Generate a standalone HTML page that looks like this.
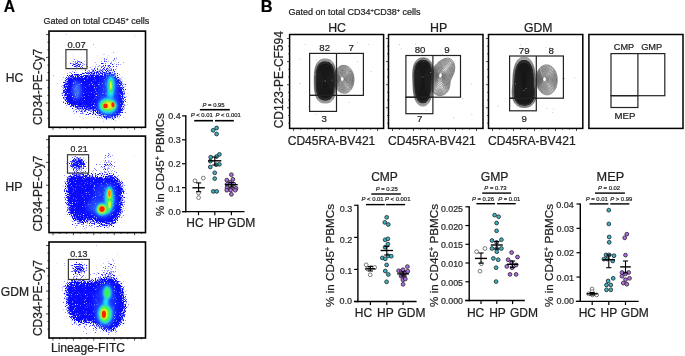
<!DOCTYPE html>
<html><head><meta charset="utf-8"><style>
html,body{margin:0;padding:0;background:#fff;overflow:hidden;}
svg{display:block;font-family:"Liberation Sans", sans-serif;will-change:transform;}
text{stroke:#222;stroke-width:0.22px;paint-order:stroke;}
</style></head><body>
<svg width="685" height="356" viewBox="0 0 685 356">
<defs><filter id="spk" filterUnits="userSpaceOnUse" x="0" y="0" width="685" height="356" color-interpolation-filters="sRGB"><feTurbulence type="fractalNoise" baseFrequency="0.9" numOctaves="1" seed="7" result="n"/><feColorMatrix in="n" type="matrix" values="0 0 0 0 0 0 0 0 0 0 0 0 0 0 0 1 0 0 0 0" result="nA"/><feComposite in="SourceAlpha" in2="nA" operator="arithmetic" k2="3.3" k3="-6" k4="1.45" result="m"/><feFlood flood-color="#0a0aff"/><feComposite in2="m" operator="in"/></filter><filter id="b0.6" x="-50%" y="-50%" width="200%" height="200%"><feGaussianBlur stdDeviation="0.6"/></filter><filter id="b0.7" x="-50%" y="-50%" width="200%" height="200%"><feGaussianBlur stdDeviation="0.7"/></filter><filter id="b0.8" x="-50%" y="-50%" width="200%" height="200%"><feGaussianBlur stdDeviation="0.8"/></filter><filter id="b0.9" x="-50%" y="-50%" width="200%" height="200%"><feGaussianBlur stdDeviation="0.9"/></filter><filter id="b1.0" x="-50%" y="-50%" width="200%" height="200%"><feGaussianBlur stdDeviation="1.0"/></filter><filter id="b1.5" x="-50%" y="-50%" width="200%" height="200%"><feGaussianBlur stdDeviation="1.5"/></filter><filter id="b2.0" x="-50%" y="-50%" width="200%" height="200%"><feGaussianBlur stdDeviation="2.0"/></filter><filter id="b2.2" x="-50%" y="-50%" width="200%" height="200%"><feGaussianBlur stdDeviation="2.2"/></filter><filter id="b2.5" x="-50%" y="-50%" width="200%" height="200%"><feGaussianBlur stdDeviation="2.5"/></filter><filter id="b2.6" x="-50%" y="-50%" width="200%" height="200%"><feGaussianBlur stdDeviation="2.6"/></filter><filter id="b2.8" x="-50%" y="-50%" width="200%" height="200%"><feGaussianBlur stdDeviation="2.8"/></filter><filter id="b3" x="-50%" y="-50%" width="200%" height="200%"><feGaussianBlur stdDeviation="3"/></filter><filter id="b3.0" x="-50%" y="-50%" width="200%" height="200%"><feGaussianBlur stdDeviation="3.0"/></filter><filter id="b3.2" x="-50%" y="-50%" width="200%" height="200%"><feGaussianBlur stdDeviation="3.2"/></filter><filter id="b5" x="-50%" y="-50%" width="200%" height="200%"><feGaussianBlur stdDeviation="5"/></filter></defs>
<rect width="685" height="356" fill="#fff"/>
<text x="3.71" y="11.90" font-size="15.67" fill="#000" font-weight="bold">A</text><text x="43.45" y="23.90" font-size="9.00" fill="#1e1e1e">Gated on total CD45<tspan font-size="5.6" dy="-3.2">+</tspan><tspan dy="3.2"> cells</tspan></text><clipPath id="cA0"><rect x="49" y="31.1" width="96.5" height="96.19999999999999"/></clipPath><g clip-path="url(#cA0)"><g filter="url(#spk)"><ellipse cx="110" cy="62" rx="11" ry="9" fill="#000" fill-opacity="0.4" filter="url(#b3)"/><ellipse cx="98" cy="70" rx="16" ry="4.5" fill="#000" fill-opacity="0.45" filter="url(#b2.5)"/><ellipse cx="77" cy="64" rx="8.5" ry="5.5" fill="#000" fill-opacity="0.5" filter="url(#b2.5)"/><ellipse cx="77.5" cy="64.5" rx="4" ry="2.6" fill="#000" fill-opacity="0.4" filter="url(#b1.5)"/><ellipse cx="93" cy="114" rx="22" ry="6" fill="#000" fill-opacity="0.3" filter="url(#b3)"/><path d="M63.20 90.00C63.20 86.33 64.23 82.27 65.00 80.00C65.77 77.73 66.42 77.30 67.80 76.40C69.18 75.50 70.87 74.75 73.30 74.60C75.73 74.45 79.67 75.65 82.40 75.50C85.13 75.35 87.57 74.15 89.70 73.70C91.83 73.25 93.37 72.80 95.20 72.80C97.03 72.80 98.88 73.47 100.70 73.70C102.52 73.93 104.58 74.38 106.10 74.20C107.62 74.02 108.27 72.53 109.80 72.60C111.33 72.67 113.63 73.65 115.30 74.60C116.97 75.55 118.43 76.17 119.80 78.30C121.17 80.43 122.73 84.37 123.50 87.40C124.27 90.43 124.40 93.15 124.40 96.50C124.40 99.85 124.10 104.45 123.50 107.50C122.90 110.55 122.48 112.98 120.80 114.80C119.12 116.62 115.85 117.95 113.40 118.40C110.95 118.85 108.53 118.40 106.10 117.50C103.67 116.60 101.23 114.37 98.80 113.00C96.37 111.63 93.93 109.77 91.50 109.30C89.07 108.83 86.63 110.35 84.20 110.20C81.77 110.05 79.33 109.15 76.90 108.40C74.47 107.65 71.58 106.77 69.60 105.70C67.62 104.63 66.07 104.62 65.00 102.00C63.93 99.38 63.20 93.67 63.20 90.00Z" fill="#000" fill-opacity="0.45" filter="url(#b5)"/><path d="M64.40 90.07C64.39 86.54 65.37 82.62 66.12 80.44C66.86 78.26 67.49 77.84 68.84 76.99C70.20 76.14 71.86 75.44 74.24 75.34C76.62 75.25 80.50 76.53 83.14 76.45C85.77 76.36 88.04 75.26 90.05 74.85C92.06 74.44 93.49 74.00 95.20 74.00C96.92 74.00 98.64 74.65 100.36 74.85C102.07 75.05 104.02 75.44 105.47 75.22C106.93 75.01 107.59 73.53 109.08 73.56C110.57 73.59 112.78 74.50 114.39 75.39C116.00 76.27 117.43 76.85 118.75 78.88C120.07 80.92 121.57 84.69 122.32 87.59C123.06 90.50 123.19 93.09 123.21 96.32C123.24 99.54 123.00 103.97 122.45 106.92C121.90 109.87 121.53 112.25 119.91 114.00C118.28 115.75 115.10 117.01 112.72 117.41C110.34 117.81 107.98 117.33 105.63 116.40C103.28 115.46 100.91 113.19 98.60 111.82C96.29 110.44 94.05 108.57 91.75 108.13C89.46 107.69 87.15 109.26 84.82 109.17C82.50 109.09 80.15 108.27 77.79 107.60C75.43 106.93 72.60 106.13 70.66 105.13C68.72 104.14 67.18 104.13 66.14 101.62C65.10 99.11 64.40 93.60 64.40 90.07Z" fill="#000" fill-opacity="1.0" filter="url(#b3.2)"/><path d="M66.19 90.18C66.18 86.86 67.09 83.15 67.79 81.10C68.49 79.05 69.10 78.65 70.41 77.88C71.72 77.11 73.35 76.46 75.65 76.46C77.96 76.46 81.76 77.85 84.25 77.86C86.73 77.88 88.75 76.91 90.57 76.57C92.40 76.23 93.66 75.80 95.21 75.80C96.75 75.80 98.29 76.41 99.84 76.57C101.40 76.73 103.18 77.02 104.54 76.76C105.90 76.50 106.58 75.03 108.00 75.00C109.41 74.97 111.50 75.77 113.03 76.56C114.56 77.36 115.93 77.87 117.18 79.76C118.43 81.64 119.83 85.17 120.54 87.88C121.25 90.59 121.38 93.01 121.44 96.04C121.49 99.07 121.35 103.26 120.87 106.05C120.39 108.85 120.09 111.16 118.56 112.80C117.04 114.45 113.97 115.60 111.70 115.93C109.43 116.25 107.16 115.72 104.93 114.74C102.69 113.76 100.43 111.44 98.30 110.04C96.17 108.65 94.23 106.77 92.13 106.37C90.04 105.97 87.92 107.63 85.75 107.63C83.59 107.64 81.39 106.96 79.13 106.40C76.88 105.84 74.13 105.17 72.24 104.28C70.36 103.39 68.86 103.41 67.85 101.06C66.84 98.71 66.20 93.51 66.19 90.18Z" fill="#000" fill-opacity="0.7" filter="url(#b3.0)"/></g><ellipse cx="76.9" cy="90.5" rx="4" ry="9" fill="#4a8cff" opacity="0.85" filter="url(#b2.0)"/><ellipse cx="108.5" cy="96" rx="10.5" ry="21" fill="#2a5cff" opacity="0.5" filter="url(#b3)"/><ellipse cx="110.8" cy="85.5" rx="5.6" ry="11.5" fill="#2a62ff" opacity="0.85" filter="url(#b2.2)"/><ellipse cx="110.3" cy="95" rx="3.2" ry="4.5" fill="#1ee4ff" opacity="1" filter="url(#b1.0)"/><ellipse cx="108" cy="106" rx="10.5" ry="9.5" fill="#2a62ff" opacity="0.85" filter="url(#b2.2)"/><ellipse cx="110.8" cy="85.5" rx="3.6" ry="9.4" fill="#1ee4ff" opacity="1" filter="url(#b1.0)"/><ellipse cx="107.8" cy="105.8" rx="9.0" ry="7.8" fill="#1ee4ff" opacity="1" filter="url(#b1.0)"/><ellipse cx="110.8" cy="86.3" rx="2.0" ry="7.2" fill="#44f040" opacity="1" filter="url(#b0.8)"/><ellipse cx="110.8" cy="85.5" rx="0.9" ry="4.0" fill="#e8ff30" opacity="1" filter="url(#b0.7)"/><ellipse cx="108.2" cy="105.6" rx="7.6" ry="5.5" fill="#44f040" opacity="1" filter="url(#b0.9)"/><ellipse cx="108.6" cy="105.4" rx="6.0" ry="3.9" fill="#f8e820" opacity="1" filter="url(#b0.8)"/><ellipse cx="105.5" cy="105.9" rx="2.3" ry="2.4" fill="#ff2000" opacity="1" filter="url(#b0.6)"/><ellipse cx="112.9" cy="104.8" rx="1.6" ry="2.5" fill="#ff2000" opacity="1" filter="url(#b0.6)"/></g><rect x="49" y="31.1" width="96.5" height="96.19999999999999" fill="none" stroke="#000" stroke-width="1.6"/><line x1="46" y1="34.6" x2="49" y2="34.6" stroke="#000" stroke-width="0.7"/><line x1="47.4" y1="42.2" x2="49" y2="42.2" stroke="#000" stroke-width="0.7"/><line x1="47.4" y1="49.8" x2="49" y2="49.8" stroke="#000" stroke-width="0.7"/><line x1="46" y1="57.4" x2="49" y2="57.4" stroke="#000" stroke-width="0.7"/><line x1="47.4" y1="65.0" x2="49" y2="65.0" stroke="#000" stroke-width="0.7"/><line x1="47.4" y1="72.6" x2="49" y2="72.6" stroke="#000" stroke-width="0.7"/><line x1="46" y1="80.19999999999999" x2="49" y2="80.19999999999999" stroke="#000" stroke-width="0.7"/><line x1="47.4" y1="87.8" x2="49" y2="87.8" stroke="#000" stroke-width="0.7"/><line x1="47.4" y1="95.4" x2="49" y2="95.4" stroke="#000" stroke-width="0.7"/><line x1="46" y1="103.0" x2="49" y2="103.0" stroke="#000" stroke-width="0.7"/><line x1="47.4" y1="110.6" x2="49" y2="110.6" stroke="#000" stroke-width="0.7"/><line x1="47.4" y1="118.19999999999999" x2="49" y2="118.19999999999999" stroke="#000" stroke-width="0.7"/><line x1="53.0" y1="127.3" x2="53.0" y2="129.9" stroke="#000" stroke-width="0.7"/><line x1="59.8" y1="127.3" x2="59.8" y2="128.7" stroke="#000" stroke-width="0.7"/><line x1="66.6" y1="127.3" x2="66.6" y2="128.7" stroke="#000" stroke-width="0.7"/><line x1="73.4" y1="127.3" x2="73.4" y2="129.9" stroke="#000" stroke-width="0.7"/><line x1="80.2" y1="127.3" x2="80.2" y2="128.7" stroke="#000" stroke-width="0.7"/><line x1="87.0" y1="127.3" x2="87.0" y2="128.7" stroke="#000" stroke-width="0.7"/><line x1="93.8" y1="127.3" x2="93.8" y2="129.9" stroke="#000" stroke-width="0.7"/><line x1="100.6" y1="127.3" x2="100.6" y2="128.7" stroke="#000" stroke-width="0.7"/><line x1="107.4" y1="127.3" x2="107.4" y2="128.7" stroke="#000" stroke-width="0.7"/><line x1="114.19999999999999" y1="127.3" x2="114.19999999999999" y2="129.9" stroke="#000" stroke-width="0.7"/><line x1="121.0" y1="127.3" x2="121.0" y2="128.7" stroke="#000" stroke-width="0.7"/><line x1="127.8" y1="127.3" x2="127.8" y2="128.7" stroke="#000" stroke-width="0.7"/><line x1="134.6" y1="127.3" x2="134.6" y2="129.9" stroke="#000" stroke-width="0.7"/><line x1="141.39999999999998" y1="127.3" x2="141.39999999999998" y2="128.7" stroke="#000" stroke-width="0.7"/><clipPath id="cA1"><rect x="49" y="136.1" width="96.5" height="96.5"/></clipPath><g clip-path="url(#cA1)"><g filter="url(#spk)"><ellipse cx="109" cy="160" rx="4" ry="11" fill="#000" fill-opacity="0.42" filter="url(#b2.5)"/><ellipse cx="104" cy="168" rx="13" ry="6" fill="#000" fill-opacity="0.35" filter="url(#b3)"/><ellipse cx="77.7" cy="164" rx="9.5" ry="7.2" fill="#000" fill-opacity="0.7" filter="url(#b2.8)"/><ellipse cx="77.7" cy="163.8" rx="6" ry="4.2" fill="#000" fill-opacity="0.7" filter="url(#b2.0)"/><ellipse cx="90" cy="224" rx="22" ry="5" fill="#000" fill-opacity="0.3" filter="url(#b3)"/><path d="M66.70 183.80C67.02 180.83 66.38 176.97 68.20 175.40C70.02 173.83 74.15 174.57 77.60 174.40C81.05 174.23 85.77 174.08 88.90 174.40C92.03 174.72 94.20 175.98 96.40 176.30C98.60 176.62 100.22 176.45 102.10 176.30C103.98 176.15 105.82 175.55 107.70 175.40C109.58 175.25 111.52 174.93 113.40 175.40C115.28 175.87 117.43 176.17 119.00 178.20C120.57 180.23 122.17 183.53 122.80 187.60C123.43 191.67 123.12 198.20 122.80 202.60C122.48 207.00 121.85 210.85 120.90 214.00C119.95 217.15 118.67 219.63 117.10 221.50C115.53 223.37 114.00 224.73 111.50 225.20C109.00 225.67 105.25 225.23 102.10 224.30C98.95 223.37 95.43 220.07 92.60 219.60C89.77 219.13 87.60 221.18 85.10 221.50C82.60 221.82 79.95 222.13 77.60 221.50C75.25 220.87 72.73 220.22 71.00 217.70C69.27 215.18 67.98 210.48 67.20 206.40C66.42 202.32 66.38 196.97 66.30 193.20C66.22 189.43 66.38 186.77 66.70 183.80Z" fill="#000" fill-opacity="0.45" filter="url(#b5)"/><path d="M67.78 184.32C68.06 181.45 67.37 177.65 69.13 176.16C70.89 174.67 74.98 175.45 78.33 175.35C81.67 175.25 86.21 175.20 89.21 175.56C92.21 175.92 94.24 177.18 96.33 177.50C98.41 177.81 99.93 177.61 101.72 177.44C103.52 177.26 105.28 176.63 107.10 176.44C108.92 176.25 110.80 175.90 112.63 176.32C114.46 176.74 116.56 177.00 118.06 178.95C119.57 180.90 121.08 184.09 121.67 188.00C122.26 191.90 121.92 198.15 121.62 202.38C121.32 206.60 120.78 210.31 119.89 213.35C119.00 216.39 117.79 218.81 116.29 220.61C114.79 222.42 113.31 223.75 110.89 224.17C108.48 224.59 104.82 224.10 101.80 223.14C98.77 222.18 95.44 218.87 92.73 218.41C90.03 217.95 87.96 220.04 85.56 220.39C83.15 220.74 80.58 221.11 78.30 220.53C76.03 219.95 73.58 219.34 71.92 216.93C70.26 214.51 69.08 209.96 68.34 206.03C67.60 202.10 67.58 196.99 67.49 193.37C67.39 189.75 67.51 187.19 67.78 184.32Z" fill="#000" fill-opacity="1.0" filter="url(#b3.2)"/><path d="M69.41 185.09C69.62 182.37 68.86 178.68 70.52 177.30C72.19 175.91 76.22 176.79 79.42 176.79C82.61 176.79 86.88 176.88 89.68 177.30C92.48 177.71 94.30 178.99 96.21 179.29C98.13 179.60 99.49 179.36 101.15 179.15C102.82 178.93 104.49 178.24 106.21 178.00C107.93 177.76 109.74 177.36 111.48 177.70C113.22 178.05 115.24 178.26 116.66 180.08C118.07 181.89 119.44 184.94 119.97 188.60C120.50 192.26 120.12 198.08 119.85 202.04C119.59 206.01 119.17 209.50 118.38 212.37C117.58 215.25 116.48 217.58 115.08 219.28C113.68 220.99 112.27 222.26 109.98 222.62C107.69 222.97 104.19 222.40 101.34 221.40C98.50 220.40 95.45 217.06 92.93 216.62C90.42 216.17 88.51 218.32 86.25 218.73C83.99 219.14 81.52 219.56 79.36 219.07C77.20 218.58 74.84 218.03 73.29 215.77C71.74 213.50 70.72 209.17 70.05 205.48C69.38 201.79 69.38 197.03 69.27 193.63C69.16 190.23 69.20 187.82 69.41 185.09Z" fill="#000" fill-opacity="0.7" filter="url(#b3.0)"/></g><ellipse cx="94" cy="207" rx="8" ry="6" fill="#3a70ff" opacity="0.55" filter="url(#b2.6)"/><ellipse cx="104" cy="200" rx="12" ry="17" fill="#2a5cff" opacity="0.5" filter="url(#b3)"/><ellipse cx="109.4" cy="198.8" rx="5.6" ry="14" fill="#2a62ff" opacity="0.85" filter="url(#b2.2)"/><ellipse cx="102.4" cy="209.5" rx="8.2" ry="7.8" fill="#2a62ff" opacity="0.85" filter="url(#b2.2)"/><ellipse cx="109.2" cy="198.8" rx="4.5" ry="12.6" fill="#1ee4ff" opacity="1" filter="url(#b1.0)"/><ellipse cx="102.2" cy="209.3" rx="6.0" ry="6.2" fill="#1ee4ff" opacity="1" filter="url(#b1.0)"/><ellipse cx="106.2" cy="210" rx="4.2" ry="3.8" fill="#1ee4ff" opacity="1" filter="url(#b1.0)"/><ellipse cx="109.4" cy="198.6" rx="2.8" ry="10.6" fill="#44f040" opacity="1" filter="url(#b0.8)"/><ellipse cx="102.1" cy="209.2" rx="4.8" ry="4.8" fill="#44f040" opacity="1" filter="url(#b0.8)"/><ellipse cx="106.2" cy="209.6" rx="3.2" ry="2.6" fill="#44f040" opacity="1" filter="url(#b0.8)"/><ellipse cx="109.6" cy="204.5" rx="1.3" ry="4.0" fill="#d8ff30" opacity="1" filter="url(#b0.7)"/><ellipse cx="109.4" cy="194.0" rx="1.9" ry="4.6" fill="#f8e820" opacity="1" filter="url(#b0.7)"/><ellipse cx="109.4" cy="193.6" rx="1.2" ry="3.3" fill="#ff7010" opacity="1" filter="url(#b0.6)"/><ellipse cx="102.1" cy="209.2" rx="3.9" ry="3.9" fill="#f8e820" opacity="1" filter="url(#b0.8)"/><ellipse cx="102.0" cy="209.1" rx="2.7" ry="2.8" fill="#ff2000" opacity="1" filter="url(#b0.6)"/></g><rect x="49" y="136.1" width="96.5" height="96.5" fill="none" stroke="#000" stroke-width="1.6"/><line x1="46" y1="139.6" x2="49" y2="139.6" stroke="#000" stroke-width="0.7"/><line x1="47.4" y1="147.2" x2="49" y2="147.2" stroke="#000" stroke-width="0.7"/><line x1="47.4" y1="154.79999999999998" x2="49" y2="154.79999999999998" stroke="#000" stroke-width="0.7"/><line x1="46" y1="162.39999999999998" x2="49" y2="162.39999999999998" stroke="#000" stroke-width="0.7"/><line x1="47.4" y1="170.0" x2="49" y2="170.0" stroke="#000" stroke-width="0.7"/><line x1="47.4" y1="177.6" x2="49" y2="177.6" stroke="#000" stroke-width="0.7"/><line x1="46" y1="185.2" x2="49" y2="185.2" stroke="#000" stroke-width="0.7"/><line x1="47.4" y1="192.79999999999998" x2="49" y2="192.79999999999998" stroke="#000" stroke-width="0.7"/><line x1="47.4" y1="200.39999999999998" x2="49" y2="200.39999999999998" stroke="#000" stroke-width="0.7"/><line x1="46" y1="208.0" x2="49" y2="208.0" stroke="#000" stroke-width="0.7"/><line x1="47.4" y1="215.6" x2="49" y2="215.6" stroke="#000" stroke-width="0.7"/><line x1="47.4" y1="223.2" x2="49" y2="223.2" stroke="#000" stroke-width="0.7"/><line x1="53.0" y1="232.6" x2="53.0" y2="235.2" stroke="#000" stroke-width="0.7"/><line x1="59.8" y1="232.6" x2="59.8" y2="234.0" stroke="#000" stroke-width="0.7"/><line x1="66.6" y1="232.6" x2="66.6" y2="234.0" stroke="#000" stroke-width="0.7"/><line x1="73.4" y1="232.6" x2="73.4" y2="235.2" stroke="#000" stroke-width="0.7"/><line x1="80.2" y1="232.6" x2="80.2" y2="234.0" stroke="#000" stroke-width="0.7"/><line x1="87.0" y1="232.6" x2="87.0" y2="234.0" stroke="#000" stroke-width="0.7"/><line x1="93.8" y1="232.6" x2="93.8" y2="235.2" stroke="#000" stroke-width="0.7"/><line x1="100.6" y1="232.6" x2="100.6" y2="234.0" stroke="#000" stroke-width="0.7"/><line x1="107.4" y1="232.6" x2="107.4" y2="234.0" stroke="#000" stroke-width="0.7"/><line x1="114.19999999999999" y1="232.6" x2="114.19999999999999" y2="235.2" stroke="#000" stroke-width="0.7"/><line x1="121.0" y1="232.6" x2="121.0" y2="234.0" stroke="#000" stroke-width="0.7"/><line x1="127.8" y1="232.6" x2="127.8" y2="234.0" stroke="#000" stroke-width="0.7"/><line x1="134.6" y1="232.6" x2="134.6" y2="235.2" stroke="#000" stroke-width="0.7"/><line x1="141.39999999999998" y1="232.6" x2="141.39999999999998" y2="234.0" stroke="#000" stroke-width="0.7"/><clipPath id="cA2"><rect x="49" y="242" width="96.5" height="96"/></clipPath><g clip-path="url(#cA2)"><g filter="url(#spk)"><ellipse cx="110" cy="266" rx="5" ry="10" fill="#000" fill-opacity="0.38" filter="url(#b2.5)"/><ellipse cx="104" cy="274" rx="13" ry="6" fill="#000" fill-opacity="0.32" filter="url(#b3)"/><ellipse cx="78.8" cy="269" rx="9.5" ry="7" fill="#000" fill-opacity="0.55" filter="url(#b2.8)"/><ellipse cx="78.8" cy="268" rx="5.5" ry="3.6" fill="#000" fill-opacity="0.6" filter="url(#b2.0)"/><ellipse cx="92" cy="328" rx="22" ry="5" fill="#000" fill-opacity="0.3" filter="url(#b3)"/><path d="M65.50 289.10C65.65 285.93 65.33 282.93 67.40 281.50C69.47 280.07 73.92 280.67 77.90 280.50C81.88 280.33 87.80 280.67 91.30 280.50C94.80 280.33 96.68 279.98 98.90 279.50C101.12 279.02 102.37 277.92 104.60 277.60C106.83 277.28 109.75 276.95 112.30 277.60C114.85 278.25 118.00 279.27 119.90 281.50C121.80 283.73 122.75 287.18 123.70 291.00C124.65 294.82 125.43 300.27 125.60 304.40C125.77 308.53 125.65 312.30 124.70 315.80C123.75 319.30 121.65 322.85 119.90 325.40C118.15 327.95 116.42 330.47 114.20 331.10C111.98 331.73 109.15 330.00 106.60 329.20C104.05 328.40 101.77 327.57 98.90 326.30C96.03 325.03 92.27 322.23 89.40 321.60C86.53 320.97 84.25 322.50 81.70 322.50C79.15 322.50 76.32 323.03 74.10 321.60C71.88 320.17 69.67 317.42 68.40 313.90C67.13 310.38 66.98 304.63 66.50 300.50C66.02 296.37 65.35 292.27 65.50 289.10Z" fill="#000" fill-opacity="0.45" filter="url(#b5)"/><path d="M66.60 289.58C66.71 286.51 66.36 283.56 68.37 282.20C70.39 280.84 74.81 281.50 78.68 281.42C82.54 281.33 88.23 281.79 91.58 281.67C94.93 281.55 96.67 281.18 98.78 280.69C100.89 280.21 102.09 279.09 104.23 278.74C106.38 278.40 109.20 278.02 111.66 278.62C114.12 279.21 117.19 280.16 119.01 282.30C120.83 284.45 121.70 287.80 122.60 291.47C123.49 295.14 124.23 300.35 124.40 304.32C124.57 308.29 124.51 311.92 123.61 315.29C122.72 318.66 120.72 322.10 119.04 324.56C117.37 327.03 115.71 329.49 113.57 330.08C111.43 330.67 108.64 328.91 106.18 328.08C103.71 327.25 101.51 326.37 98.78 325.11C96.06 323.84 92.55 321.07 89.82 320.48C87.10 319.88 84.89 321.48 82.42 321.54C79.95 321.60 77.17 322.17 75.02 320.82C72.86 319.48 70.73 316.83 69.51 313.45C68.29 310.08 68.18 304.56 67.70 300.58C67.21 296.60 66.49 292.64 66.60 289.58Z" fill="#000" fill-opacity="1.0" filter="url(#b3.2)"/><path d="M68.25 290.29C68.31 287.38 67.90 284.51 69.83 283.26C71.76 282.01 76.14 282.76 79.84 282.79C83.53 282.82 88.87 283.47 92.00 283.42C95.12 283.37 96.65 282.98 98.60 282.48C100.55 281.99 101.66 280.85 103.68 280.46C105.70 280.06 108.37 279.63 110.70 280.14C113.03 280.65 115.97 281.50 117.67 283.51C119.38 285.52 120.12 288.73 120.94 292.18C121.76 295.63 122.43 300.49 122.61 304.21C122.78 307.93 122.79 311.34 121.99 314.52C121.18 317.70 119.32 320.96 117.76 323.30C116.20 325.64 114.66 328.03 112.62 328.55C110.59 329.06 107.88 327.26 105.54 326.39C103.21 325.52 101.12 324.58 98.61 323.31C96.09 322.05 92.98 319.33 90.46 318.79C87.94 318.26 85.84 319.95 83.49 320.10C81.15 320.24 78.44 320.88 76.39 319.66C74.34 318.44 72.33 315.94 71.18 312.78C70.03 309.62 69.98 304.45 69.49 300.70C69.00 296.96 68.20 293.20 68.25 290.29Z" fill="#000" fill-opacity="0.7" filter="url(#b3.0)"/></g><ellipse cx="105" cy="305" rx="11" ry="21" fill="#2a5cff" opacity="0.5" filter="url(#b3)"/><ellipse cx="107.2" cy="293" rx="5.8" ry="8.5" fill="#2a62ff" opacity="0.85" filter="url(#b2.2)"/><ellipse cx="105" cy="314" rx="9" ry="12.5" fill="#2a62ff" opacity="0.85" filter="url(#b2.2)"/><ellipse cx="107.2" cy="292.9" rx="4.0" ry="7.0" fill="#1ee4ff" opacity="1" filter="url(#b1.0)"/><ellipse cx="105.8" cy="302" rx="2.6" ry="4" fill="#1ee4ff" opacity="1" filter="url(#b1.0)"/><ellipse cx="105.1" cy="313.9" rx="7.2" ry="10.0" fill="#1ee4ff" opacity="1" filter="url(#b1.0)"/><ellipse cx="107.2" cy="292.9" rx="2.6" ry="4.7" fill="#44f040" opacity="1" filter="url(#b0.8)"/><ellipse cx="105.0" cy="313.9" rx="5.4" ry="8.2" fill="#44f040" opacity="1" filter="url(#b0.9)"/><ellipse cx="104.2" cy="313.9" rx="3.6" ry="5.6" fill="#f0ff20" opacity="1" filter="url(#b0.8)"/><ellipse cx="103.9" cy="314.2" rx="2.1" ry="3.7" fill="#ff2400" opacity="1" filter="url(#b0.6)"/></g><rect x="49" y="242" width="96.5" height="96" fill="none" stroke="#000" stroke-width="1.6"/><line x1="46" y1="245.5" x2="49" y2="245.5" stroke="#000" stroke-width="0.7"/><line x1="47.4" y1="253.1" x2="49" y2="253.1" stroke="#000" stroke-width="0.7"/><line x1="47.4" y1="260.7" x2="49" y2="260.7" stroke="#000" stroke-width="0.7"/><line x1="46" y1="268.3" x2="49" y2="268.3" stroke="#000" stroke-width="0.7"/><line x1="47.4" y1="275.9" x2="49" y2="275.9" stroke="#000" stroke-width="0.7"/><line x1="47.4" y1="283.5" x2="49" y2="283.5" stroke="#000" stroke-width="0.7"/><line x1="46" y1="291.1" x2="49" y2="291.1" stroke="#000" stroke-width="0.7"/><line x1="47.4" y1="298.7" x2="49" y2="298.7" stroke="#000" stroke-width="0.7"/><line x1="47.4" y1="306.3" x2="49" y2="306.3" stroke="#000" stroke-width="0.7"/><line x1="46" y1="313.9" x2="49" y2="313.9" stroke="#000" stroke-width="0.7"/><line x1="47.4" y1="321.5" x2="49" y2="321.5" stroke="#000" stroke-width="0.7"/><line x1="47.4" y1="329.1" x2="49" y2="329.1" stroke="#000" stroke-width="0.7"/><line x1="53.0" y1="338" x2="53.0" y2="340.6" stroke="#000" stroke-width="0.7"/><line x1="59.8" y1="338" x2="59.8" y2="339.4" stroke="#000" stroke-width="0.7"/><line x1="66.6" y1="338" x2="66.6" y2="339.4" stroke="#000" stroke-width="0.7"/><line x1="73.4" y1="338" x2="73.4" y2="340.6" stroke="#000" stroke-width="0.7"/><line x1="80.2" y1="338" x2="80.2" y2="339.4" stroke="#000" stroke-width="0.7"/><line x1="87.0" y1="338" x2="87.0" y2="339.4" stroke="#000" stroke-width="0.7"/><line x1="93.8" y1="338" x2="93.8" y2="340.6" stroke="#000" stroke-width="0.7"/><line x1="100.6" y1="338" x2="100.6" y2="339.4" stroke="#000" stroke-width="0.7"/><line x1="107.4" y1="338" x2="107.4" y2="339.4" stroke="#000" stroke-width="0.7"/><line x1="114.19999999999999" y1="338" x2="114.19999999999999" y2="340.6" stroke="#000" stroke-width="0.7"/><line x1="121.0" y1="338" x2="121.0" y2="339.4" stroke="#000" stroke-width="0.7"/><line x1="127.8" y1="338" x2="127.8" y2="339.4" stroke="#000" stroke-width="0.7"/><line x1="134.6" y1="338" x2="134.6" y2="340.6" stroke="#000" stroke-width="0.7"/><line x1="141.39999999999998" y1="338" x2="141.39999999999998" y2="339.4" stroke="#000" stroke-width="0.7"/><rect x="65.9" y="49.6" width="21.0" height="19.0" fill="none" stroke="#3a3a3a" stroke-width="1.2"/><text x="67.42" y="47.50" font-size="9.38" fill="#1e1e1e">0.07</text><rect x="67.5" y="154.7" width="21.1" height="18.4" fill="none" stroke="#3a3a3a" stroke-width="1.2"/><text x="70.45" y="152.20" font-size="8.82" fill="#1e1e1e">0.21</text><rect x="68.4" y="259.4" width="20.9" height="20.1" fill="none" stroke="#3a3a3a" stroke-width="1.2"/><text x="70.14" y="257.20" font-size="8.90" fill="#1e1e1e">0.13</text><text x="5.73" y="81.70" font-size="12.15" fill="#1e1e1e">HC</text><text x="5.31" y="190.60" font-size="12.43" fill="#1e1e1e">HP</text><text x="0.80" y="295.60" font-size="12.09" fill="#1e1e1e">GDM</text><text x="41.90" y="124.90" font-size="12.00" fill="#1e1e1e" transform="rotate(-90 41.90 124.90)">CD34-PE-Cy7</text><text x="41.90" y="231.60" font-size="12.00" fill="#1e1e1e" transform="rotate(-90 41.90 231.60)">CD34-PE-Cy7</text><text x="41.90" y="336.10" font-size="12.00" fill="#1e1e1e" transform="rotate(-90 41.90 336.10)">CD34-PE-Cy7</text><text x="50.93" y="352.40" font-size="12.13" fill="#1e1e1e">Lineage-FITC</text><line x1="185.8" y1="115.27999999999999" x2="185.8" y2="212.29999999999998" stroke="#000" stroke-width="1.4"/><line x1="182.5" y1="211.6" x2="244.5" y2="211.6" stroke="#000" stroke-width="1.4"/><line x1="182.0" y1="211.6" x2="185.8" y2="211.6" stroke="#000" stroke-width="1.2"/><line x1="182.0" y1="187.67" x2="185.8" y2="187.67" stroke="#000" stroke-width="1.2"/><line x1="182.0" y1="163.73999999999998" x2="185.8" y2="163.73999999999998" stroke="#000" stroke-width="1.2"/><line x1="182.0" y1="139.81" x2="185.8" y2="139.81" stroke="#000" stroke-width="1.2"/><line x1="182.0" y1="115.87999999999998" x2="185.8" y2="115.87999999999998" stroke="#000" stroke-width="1.2"/><line x1="198.5" y1="211.6" x2="198.5" y2="215.2" stroke="#000" stroke-width="1.2"/><line x1="214.8" y1="211.6" x2="214.8" y2="215.2" stroke="#000" stroke-width="1.2"/><line x1="231.4" y1="211.6" x2="231.4" y2="215.2" stroke="#000" stroke-width="1.2"/><text x="168.20" y="214.65" font-size="9.00" fill="#2a2a2a">0.0</text><text x="168.29" y="191.55" font-size="9.00" fill="#2a2a2a">0.1</text><text x="168.34" y="167.05" font-size="9.00" fill="#2a2a2a">0.2</text><text x="168.25" y="143.35" font-size="9.00" fill="#2a2a2a">0.3</text><text x="168.16" y="119.25" font-size="9.00" fill="#2a2a2a">0.4</text><text x="186.24" y="226.60" font-size="12.00" fill="#1e1e1e">HC</text><text x="208.44" y="226.60" font-size="12.00" fill="#1e1e1e">HP</text><text x="227.30" y="226.60" font-size="12.00" fill="#1e1e1e">GDM</text><circle cx="195" cy="180.8" r="1.9" fill="#ffffff" stroke="#505050" stroke-width="0.75"/><circle cx="203.3" cy="178.1" r="1.9" fill="#ffffff" stroke="#505050" stroke-width="0.75"/><circle cx="198.6" cy="192.8" r="1.9" fill="#ffffff" stroke="#505050" stroke-width="0.75"/><circle cx="198.6" cy="197.6" r="1.9" fill="#ffffff" stroke="#505050" stroke-width="0.75"/><circle cx="216.6" cy="128" r="1.9" fill="#3cb2c4" stroke="#1a1a1a" stroke-width="0.75"/><circle cx="213.1" cy="130.3" r="1.9" fill="#3cb2c4" stroke="#1a1a1a" stroke-width="0.75"/><circle cx="216.6" cy="134" r="1.9" fill="#3cb2c4" stroke="#1a1a1a" stroke-width="0.75"/><circle cx="219.4" cy="154.4" r="1.9" fill="#3cb2c4" stroke="#1a1a1a" stroke-width="0.75"/><circle cx="216.6" cy="156.5" r="1.9" fill="#3cb2c4" stroke="#1a1a1a" stroke-width="0.75"/><circle cx="210.7" cy="157.2" r="1.9" fill="#3cb2c4" stroke="#1a1a1a" stroke-width="0.75"/><circle cx="210.3" cy="161.2" r="1.9" fill="#3cb2c4" stroke="#1a1a1a" stroke-width="0.75"/><circle cx="219.4" cy="164.3" r="1.9" fill="#3cb2c4" stroke="#1a1a1a" stroke-width="0.75"/><circle cx="216.2" cy="164.7" r="1.9" fill="#3cb2c4" stroke="#1a1a1a" stroke-width="0.75"/><circle cx="210.3" cy="167" r="1.9" fill="#3cb2c4" stroke="#1a1a1a" stroke-width="0.75"/><circle cx="214.7" cy="172.8" r="1.9" fill="#3cb2c4" stroke="#1a1a1a" stroke-width="0.75"/><circle cx="214.7" cy="178.6" r="1.9" fill="#3cb2c4" stroke="#1a1a1a" stroke-width="0.75"/><circle cx="213.3" cy="191.4" r="1.9" fill="#3cb2c4" stroke="#1a1a1a" stroke-width="0.75"/><circle cx="216.7" cy="191.4" r="1.9" fill="#3cb2c4" stroke="#1a1a1a" stroke-width="0.75"/><circle cx="231.4" cy="174.7" r="1.9" fill="#b06ee2" stroke="#1a1a1a" stroke-width="0.75"/><circle cx="226.8" cy="180.1" r="1.9" fill="#b06ee2" stroke="#1a1a1a" stroke-width="0.75"/><circle cx="232.9" cy="179.3" r="1.9" fill="#b06ee2" stroke="#1a1a1a" stroke-width="0.75"/><circle cx="230.2" cy="182.4" r="1.9" fill="#b06ee2" stroke="#1a1a1a" stroke-width="0.75"/><circle cx="233.7" cy="184" r="1.9" fill="#b06ee2" stroke="#1a1a1a" stroke-width="0.75"/><circle cx="227" cy="184.4" r="1.9" fill="#b06ee2" stroke="#1a1a1a" stroke-width="0.75"/><circle cx="227" cy="187.8" r="1.9" fill="#b06ee2" stroke="#1a1a1a" stroke-width="0.75"/><circle cx="236" cy="188.3" r="1.9" fill="#b06ee2" stroke="#1a1a1a" stroke-width="0.75"/><circle cx="231.4" cy="187.8" r="1.9" fill="#b06ee2" stroke="#1a1a1a" stroke-width="0.75"/><circle cx="230.6" cy="190.2" r="1.9" fill="#b06ee2" stroke="#1a1a1a" stroke-width="0.75"/><circle cx="226.8" cy="190.2" r="1.9" fill="#b06ee2" stroke="#1a1a1a" stroke-width="0.75"/><circle cx="235.3" cy="190.2" r="1.9" fill="#b06ee2" stroke="#1a1a1a" stroke-width="0.75"/><circle cx="231.4" cy="194.3" r="1.9" fill="#b06ee2" stroke="#1a1a1a" stroke-width="0.75"/><line x1="192.4" y1="187.8" x2="204.79999999999998" y2="187.8" stroke="#000" stroke-width="1.4"/><line x1="198.6" y1="182.9" x2="198.6" y2="191.7" stroke="#000" stroke-width="1.1"/><line x1="196.0" y1="182.9" x2="201.2" y2="182.9" stroke="#000" stroke-width="1.1"/><line x1="196.0" y1="191.7" x2="201.2" y2="191.7" stroke="#000" stroke-width="1.1"/><line x1="208.3" y1="160.8" x2="221.3" y2="160.8" stroke="#000" stroke-width="1.4"/><line x1="214.8" y1="157" x2="214.8" y2="165" stroke="#000" stroke-width="1.1"/><line x1="212.20000000000002" y1="157" x2="217.4" y2="157" stroke="#000" stroke-width="1.1"/><line x1="212.20000000000002" y1="165" x2="217.4" y2="165" stroke="#000" stroke-width="1.1"/><line x1="225.1" y1="184.7" x2="237.70000000000002" y2="184.7" stroke="#000" stroke-width="1.4"/><line x1="231.4" y1="182.5" x2="231.4" y2="187" stroke="#000" stroke-width="1.1"/><line x1="228.8" y1="182.5" x2="234.0" y2="182.5" stroke="#000" stroke-width="1.1"/><line x1="228.8" y1="187" x2="234.0" y2="187" stroke="#000" stroke-width="1.1"/><line x1="199.9" y1="109.7" x2="229.8" y2="109.7" stroke="#000" stroke-width="1.6"/><line x1="194.2" y1="120.7" x2="213" y2="120.7" stroke="#000" stroke-width="1.6"/><line x1="215" y1="120.7" x2="233.8" y2="120.7" stroke="#000" stroke-width="1.6"/><text x="202.53" y="106.80" font-size="5.9" fill="#2a2a2a"><tspan font-style="italic">P</tspan> = 0.95</text><text x="190.63" y="117.10" font-size="5.9" fill="#2a2a2a"><tspan font-style="italic">P</tspan> &lt; 0.01</text><text x="215.43" y="117.10" font-size="5.9" fill="#2a2a2a"><tspan font-style="italic">P</tspan> &lt; 0.001</text><text x="164.4" y="216.0" font-size="11.7" fill="#1e1e1e" transform="rotate(-90 164.4 216.0)">% in CD45<tspan font-size="7.2" dy="-4.3">+</tspan><tspan dy="4.3"> PBMCs</tspan></text><text x="260.83" y="11.90" font-size="16.39" fill="#000" font-weight="bold">B</text><text x="288.45" y="15.40" font-size="9.00" fill="#1e1e1e">Gated on total CD34<tspan font-size="5.6" dy="-3.2">+</tspan><tspan dy="3.2">CD38</tspan><tspan font-size="5.6" dy="-3.2">+</tspan><tspan dy="3.2"> cells</tspan></text><rect x="289.6" y="34.5" width="94.0" height="93.9" fill="none" stroke="#000" stroke-width="1.5"/><text x="328.22" y="32.00" font-size="12.30" fill="#1e1e1e">HC</text><text x="287.70" y="144.50" font-size="12.04" fill="#1e1e1e">CD45RA-BV421</text><line x1="287.0" y1="38.5" x2="289.6" y2="38.5" stroke="#000" stroke-width="0.7"/><line x1="288.20000000000005" y1="46.2" x2="289.6" y2="46.2" stroke="#000" stroke-width="0.7"/><line x1="288.20000000000005" y1="53.9" x2="289.6" y2="53.9" stroke="#000" stroke-width="0.7"/><line x1="287.0" y1="61.6" x2="289.6" y2="61.6" stroke="#000" stroke-width="0.7"/><line x1="288.20000000000005" y1="69.3" x2="289.6" y2="69.3" stroke="#000" stroke-width="0.7"/><line x1="288.20000000000005" y1="77.0" x2="289.6" y2="77.0" stroke="#000" stroke-width="0.7"/><line x1="287.0" y1="84.7" x2="289.6" y2="84.7" stroke="#000" stroke-width="0.7"/><line x1="288.20000000000005" y1="92.4" x2="289.6" y2="92.4" stroke="#000" stroke-width="0.7"/><line x1="288.20000000000005" y1="100.1" x2="289.6" y2="100.1" stroke="#000" stroke-width="0.7"/><line x1="287.0" y1="107.8" x2="289.6" y2="107.8" stroke="#000" stroke-width="0.7"/><line x1="288.20000000000005" y1="115.5" x2="289.6" y2="115.5" stroke="#000" stroke-width="0.7"/><line x1="288.20000000000005" y1="123.2" x2="289.6" y2="123.2" stroke="#000" stroke-width="0.7"/><line x1="293.6" y1="128.4" x2="293.6" y2="131.0" stroke="#000" stroke-width="0.7"/><line x1="300.6" y1="128.4" x2="300.6" y2="129.8" stroke="#000" stroke-width="0.7"/><line x1="307.6" y1="128.4" x2="307.6" y2="129.8" stroke="#000" stroke-width="0.7"/><line x1="314.6" y1="128.4" x2="314.6" y2="131.0" stroke="#000" stroke-width="0.7"/><line x1="321.6" y1="128.4" x2="321.6" y2="129.8" stroke="#000" stroke-width="0.7"/><line x1="328.6" y1="128.4" x2="328.6" y2="129.8" stroke="#000" stroke-width="0.7"/><line x1="335.6" y1="128.4" x2="335.6" y2="131.0" stroke="#000" stroke-width="0.7"/><line x1="342.6" y1="128.4" x2="342.6" y2="129.8" stroke="#000" stroke-width="0.7"/><line x1="349.6" y1="128.4" x2="349.6" y2="129.8" stroke="#000" stroke-width="0.7"/><line x1="356.6" y1="128.4" x2="356.6" y2="131.0" stroke="#000" stroke-width="0.7"/><line x1="363.6" y1="128.4" x2="363.6" y2="129.8" stroke="#000" stroke-width="0.7"/><line x1="370.6" y1="128.4" x2="370.6" y2="129.8" stroke="#000" stroke-width="0.7"/><line x1="377.6" y1="128.4" x2="377.6" y2="131.0" stroke="#000" stroke-width="0.7"/><rect x="388.5" y="34.5" width="94.5" height="93.9" fill="none" stroke="#000" stroke-width="1.5"/><text x="430.11" y="32.00" font-size="12.43" fill="#1e1e1e">HP</text><text x="388.00" y="144.50" font-size="12.04" fill="#1e1e1e">CD45RA-BV421</text><line x1="385.9" y1="38.5" x2="388.5" y2="38.5" stroke="#000" stroke-width="0.7"/><line x1="387.1" y1="46.2" x2="388.5" y2="46.2" stroke="#000" stroke-width="0.7"/><line x1="387.1" y1="53.9" x2="388.5" y2="53.9" stroke="#000" stroke-width="0.7"/><line x1="385.9" y1="61.6" x2="388.5" y2="61.6" stroke="#000" stroke-width="0.7"/><line x1="387.1" y1="69.3" x2="388.5" y2="69.3" stroke="#000" stroke-width="0.7"/><line x1="387.1" y1="77.0" x2="388.5" y2="77.0" stroke="#000" stroke-width="0.7"/><line x1="385.9" y1="84.7" x2="388.5" y2="84.7" stroke="#000" stroke-width="0.7"/><line x1="387.1" y1="92.4" x2="388.5" y2="92.4" stroke="#000" stroke-width="0.7"/><line x1="387.1" y1="100.1" x2="388.5" y2="100.1" stroke="#000" stroke-width="0.7"/><line x1="385.9" y1="107.8" x2="388.5" y2="107.8" stroke="#000" stroke-width="0.7"/><line x1="387.1" y1="115.5" x2="388.5" y2="115.5" stroke="#000" stroke-width="0.7"/><line x1="387.1" y1="123.2" x2="388.5" y2="123.2" stroke="#000" stroke-width="0.7"/><line x1="392.5" y1="128.4" x2="392.5" y2="131.0" stroke="#000" stroke-width="0.7"/><line x1="399.5" y1="128.4" x2="399.5" y2="129.8" stroke="#000" stroke-width="0.7"/><line x1="406.5" y1="128.4" x2="406.5" y2="129.8" stroke="#000" stroke-width="0.7"/><line x1="413.5" y1="128.4" x2="413.5" y2="131.0" stroke="#000" stroke-width="0.7"/><line x1="420.5" y1="128.4" x2="420.5" y2="129.8" stroke="#000" stroke-width="0.7"/><line x1="427.5" y1="128.4" x2="427.5" y2="129.8" stroke="#000" stroke-width="0.7"/><line x1="434.5" y1="128.4" x2="434.5" y2="131.0" stroke="#000" stroke-width="0.7"/><line x1="441.5" y1="128.4" x2="441.5" y2="129.8" stroke="#000" stroke-width="0.7"/><line x1="448.5" y1="128.4" x2="448.5" y2="129.8" stroke="#000" stroke-width="0.7"/><line x1="455.5" y1="128.4" x2="455.5" y2="131.0" stroke="#000" stroke-width="0.7"/><line x1="462.5" y1="128.4" x2="462.5" y2="129.8" stroke="#000" stroke-width="0.7"/><line x1="469.5" y1="128.4" x2="469.5" y2="129.8" stroke="#000" stroke-width="0.7"/><line x1="476.5" y1="128.4" x2="476.5" y2="131.0" stroke="#000" stroke-width="0.7"/><rect x="488.5" y="34.5" width="94.29999999999995" height="93.9" fill="none" stroke="#000" stroke-width="1.5"/><text x="523.89" y="32.00" font-size="12.23" fill="#1e1e1e">GDM</text><text x="488.00" y="144.50" font-size="12.04" fill="#1e1e1e">CD45RA-BV421</text><line x1="485.9" y1="38.5" x2="488.5" y2="38.5" stroke="#000" stroke-width="0.7"/><line x1="487.1" y1="46.2" x2="488.5" y2="46.2" stroke="#000" stroke-width="0.7"/><line x1="487.1" y1="53.9" x2="488.5" y2="53.9" stroke="#000" stroke-width="0.7"/><line x1="485.9" y1="61.6" x2="488.5" y2="61.6" stroke="#000" stroke-width="0.7"/><line x1="487.1" y1="69.3" x2="488.5" y2="69.3" stroke="#000" stroke-width="0.7"/><line x1="487.1" y1="77.0" x2="488.5" y2="77.0" stroke="#000" stroke-width="0.7"/><line x1="485.9" y1="84.7" x2="488.5" y2="84.7" stroke="#000" stroke-width="0.7"/><line x1="487.1" y1="92.4" x2="488.5" y2="92.4" stroke="#000" stroke-width="0.7"/><line x1="487.1" y1="100.1" x2="488.5" y2="100.1" stroke="#000" stroke-width="0.7"/><line x1="485.9" y1="107.8" x2="488.5" y2="107.8" stroke="#000" stroke-width="0.7"/><line x1="487.1" y1="115.5" x2="488.5" y2="115.5" stroke="#000" stroke-width="0.7"/><line x1="487.1" y1="123.2" x2="488.5" y2="123.2" stroke="#000" stroke-width="0.7"/><line x1="492.5" y1="128.4" x2="492.5" y2="131.0" stroke="#000" stroke-width="0.7"/><line x1="499.5" y1="128.4" x2="499.5" y2="129.8" stroke="#000" stroke-width="0.7"/><line x1="506.5" y1="128.4" x2="506.5" y2="129.8" stroke="#000" stroke-width="0.7"/><line x1="513.5" y1="128.4" x2="513.5" y2="131.0" stroke="#000" stroke-width="0.7"/><line x1="520.5" y1="128.4" x2="520.5" y2="129.8" stroke="#000" stroke-width="0.7"/><line x1="527.5" y1="128.4" x2="527.5" y2="129.8" stroke="#000" stroke-width="0.7"/><line x1="534.5" y1="128.4" x2="534.5" y2="131.0" stroke="#000" stroke-width="0.7"/><line x1="541.5" y1="128.4" x2="541.5" y2="129.8" stroke="#000" stroke-width="0.7"/><line x1="548.5" y1="128.4" x2="548.5" y2="129.8" stroke="#000" stroke-width="0.7"/><line x1="555.5" y1="128.4" x2="555.5" y2="131.0" stroke="#000" stroke-width="0.7"/><line x1="562.5" y1="128.4" x2="562.5" y2="129.8" stroke="#000" stroke-width="0.7"/><line x1="569.5" y1="128.4" x2="569.5" y2="129.8" stroke="#000" stroke-width="0.7"/><line x1="576.5" y1="128.4" x2="576.5" y2="131.0" stroke="#000" stroke-width="0.7"/><text x="283.30" y="128.30" font-size="11.97" fill="#1e1e1e" transform="rotate(-90 283.30 128.30)">CD123-PE-CF594</text><path d="M344.75 93.26L343.75 93.25L342.75 93.11L341.75 92.84L340.75 92.44L339.75 91.89L339.00 91.37L338.00 90.50L337.25 89.69L336.54 88.75L335.91 87.75L334.87 85.50L334.15 83.00L333.89 81.50L333.77 80.25L333.78 77.50L333.91 76.25L334.17 74.75L334.92 72.25L335.60 70.75L336.18 69.75L336.89 68.75L337.56 68.00L338.25 67.35L339.25 66.63L340.25 66.09L341.00 65.81L342.00 65.55L343.00 65.41L344.00 65.40L345.00 65.51L346.00 65.74L347.00 66.09L348.00 66.60L348.75 67.10L349.75 67.94L350.50 68.74L351.27 69.75L351.89 70.75L352.91 73.00L353.62 75.50L353.98 78.25L353.96 81.00L353.56 83.75L352.82 86.25L352.27 87.50L351.59 88.75L350.90 89.75L350.25 90.52L349.50 91.25L348.50 92.02L347.75 92.45L346.75 92.88L345.75 93.14L344.75 93.26ZM345.25 92.26L344.50 92.33L343.50 92.31L342.50 92.15L341.50 91.86L340.50 91.43L339.50 90.83L338.00 89.56L337.25 88.69L336.59 87.75L335.54 85.75L334.78 83.50L334.32 81.00L334.21 78.50L334.30 77.00L334.48 75.75L335.11 73.25L335.60 72.00L336.09 71.00L336.75 69.94L337.49 69.00L338.25 68.24L339.00 67.64L339.75 67.17L340.75 66.72L341.75 66.43L342.50 66.31L343.50 66.26L344.50 66.34L346.25 66.77L347.00 67.09L348.00 67.65L348.80 68.25L349.61 69.00L350.27 69.75L350.98 70.75L352.03 72.75L352.41 73.75L352.84 75.25L353.23 77.50L353.33 80.00L353.23 81.50L353.05 82.75L352.40 85.25L351.91 86.50L351.41 87.50L350.24 89.25L349.50 90.07L348.75 90.73L347.75 91.40L347.00 91.77L346.00 92.11L345.25 92.26ZM345.50 91.25L344.75 91.38L343.75 91.41L342.75 91.31L341.75 91.07L340.75 90.68L340.00 90.27L339.25 89.76L338.50 89.12L337.75 88.32L337.13 87.50L336.13 85.75L335.37 83.75L334.84 81.25L334.69 78.75L334.89 76.25L335.40 74.00L335.85 72.75L336.32 71.75L336.91 70.75L337.46 70.00L338.75 68.69L339.50 68.16L340.50 67.64L341.25 67.38L342.25 67.17L343.00 67.11L344.00 67.15L345.75 67.55L346.50 67.85L347.50 68.39L348.91 69.50L350.19 71.00L351.20 72.75L351.96 74.75L352.46 77.00L352.64 79.50L352.46 82.00L351.96 84.25L351.19 86.25L350.16 88.00L349.50 88.82L348.75 89.57L348.00 90.15L347.25 90.61L346.50 90.95L345.50 91.25ZM343.75 90.50L342.75 90.43L342.00 90.27L340.50 89.69L339.75 89.24L339.00 88.66L337.75 87.33L337.18 86.50L336.62 85.50L335.91 83.75L335.41 81.75L335.17 79.50L335.28 77.00L335.64 75.00L336.33 73.00L337.25 71.29L337.84 70.50L338.50 69.79L339.75 68.84L340.50 68.45L341.25 68.19L342.75 67.95L343.50 67.97L344.50 68.11L345.50 68.40L346.25 68.71L347.75 69.64L348.50 70.30L349.15 71.00L350.19 72.50L351.10 74.50L351.65 76.50L351.92 78.75L351.86 81.00L351.47 83.25L350.79 85.25L350.30 86.25L349.75 87.14L349.08 88.00L348.50 88.59L347.75 89.21L347.00 89.68L345.50 90.28L344.75 90.43L343.75 90.50ZM344.50 89.54L343.00 89.58L341.50 89.26L340.75 88.96L340.00 88.54L338.75 87.51L337.71 86.25L336.76 84.50L336.08 82.50L335.73 80.50L335.66 78.25L335.88 76.25L336.40 74.25L337.18 72.50L338.25 70.97L339.50 69.83L340.75 69.16L341.50 68.93L342.25 68.80L343.75 68.84L344.75 69.06L345.50 69.34L347.00 70.17L348.24 71.25L349.40 72.75L350.18 74.25L350.77 76.00L351.13 78.00L351.19 80.25L350.94 82.25L350.45 84.00L349.65 85.75L348.75 87.05L347.50 88.26L346.75 88.75L346.00 89.12L344.50 89.54ZM344.75 88.55L343.25 88.72L342.50 88.66L341.75 88.50L340.50 87.98L339.25 87.08L338.25 85.97L337.35 84.50L336.67 82.75L336.28 81.00L336.12 78.75L336.29 76.75L336.70 75.00L337.41 73.25L338.39 71.75L339.50 70.68L340.75 69.97L342.00 69.64L343.25 69.62L344.75 69.96L346.25 70.71L347.50 71.71L348.58 73.00L349.43 74.50L349.98 76.00L350.36 77.75L350.47 79.75L350.31 81.50L349.88 83.25L349.26 84.75L348.28 86.25L347.30 87.25L346.00 88.10L344.75 88.55ZM344.00 87.79L342.75 87.84L341.50 87.59L340.25 86.99L339.25 86.18L338.29 85.00L337.60 83.75L336.99 82.00L336.68 80.25L336.62 78.25L336.84 76.50L337.33 74.75L337.91 73.50L338.75 72.28L339.75 71.34L340.75 70.77L342.00 70.43L343.25 70.44L344.00 70.60L344.75 70.86L346.00 71.56L347.10 72.50L348.10 73.75L348.78 75.00L349.32 76.50L349.65 78.25L349.70 80.00L349.53 81.50L349.13 83.00L348.45 84.50L347.56 85.75L346.50 86.73L345.25 87.43L344.00 87.79ZM343.00 87.00L341.75 86.84L340.75 86.44L339.75 85.75L339.00 84.96L338.25 83.82L337.68 82.50L337.28 81.00L337.10 79.50L337.12 78.00L337.34 76.50L337.80 75.00L338.42 73.75L339.25 72.66L340.25 71.84L341.25 71.38L342.25 71.20L343.50 71.31L344.75 71.77L345.87 72.50L346.89 73.50L347.75 74.74L348.34 76.00L348.76 77.50L348.94 79.00L348.89 80.50L348.60 82.00L348.03 83.50L347.26 84.75L346.29 85.75L345.25 86.44L344.25 86.83L343.00 87.00ZM343.75 86.06L342.75 86.17L341.75 86.03L340.75 85.61L339.75 84.85L339.00 83.95L338.34 82.75L337.91 81.50L337.66 80.25L337.58 78.75L337.71 77.25L338.00 76.00L338.51 74.75L339.25 73.60L340.00 72.86L341.00 72.27L342.00 72.01L343.00 72.04L344.00 72.32L345.00 72.86L346.00 73.71L346.75 74.64L347.38 75.75L347.84 77.00L348.09 78.25L348.17 79.50L348.06 80.75L347.76 82.00L347.23 83.25L346.55 84.25L345.75 85.06L344.75 85.70L343.75 86.06ZM343.25 85.29L342.25 85.32L341.50 85.14L340.50 84.61L339.82 84.00L339.24 83.25L338.72 82.25L338.31 81.00L338.10 79.75L338.07 78.50L338.22 77.25L338.56 76.00L339.01 75.00L339.51 74.25L340.25 73.52L341.00 73.06L342.00 72.80L342.75 72.80L343.75 73.07L344.75 73.65L345.50 74.32L346.22 75.25L346.75 76.25L347.11 77.25L347.35 78.50L347.38 79.75L347.21 81.00L346.91 82.00L346.42 83.00L345.75 83.89L345.00 84.55L344.22 85.00L343.25 85.29ZM342.75 84.52L342.00 84.47L341.25 84.23L340.50 83.75L339.99 83.25L339.46 82.50L339.00 81.51L338.71 80.50L338.58 79.50L338.58 78.25L338.73 77.25L339.00 76.34L339.39 75.50L339.91 74.75L340.50 74.18L341.25 73.76L342.00 73.58L342.75 73.60L343.50 73.82L344.26 74.25L345.09 75.00L345.65 75.75L346.15 76.75L346.46 77.75L346.62 78.75L346.60 80.00L346.42 81.00L346.05 82.00L345.61 82.75L345.00 83.47L344.25 84.04L343.50 84.38L342.75 84.52ZM343.50 83.51L342.75 83.70L342.00 83.68L341.25 83.41L340.75 83.09L340.25 82.59L339.75 81.85L339.38 81.00L339.18 80.25L339.06 79.25L339.08 78.25L339.25 77.30L339.52 76.50L340.00 75.63L340.50 75.05L341.00 74.68L341.75 74.39L342.25 74.34L343.00 74.46L343.64 74.75L344.25 75.20L344.76 75.75L345.24 76.50L345.57 77.25L345.78 78.00L345.89 78.75L345.89 79.75L345.77 80.50L345.50 81.35L345.17 82.00L344.59 82.75L344.00 83.24L343.50 83.51ZM343.00 82.83L342.25 82.92L341.75 82.82L341.25 82.59L340.80 82.25L340.37 81.75L340.00 81.09L339.61 79.75L339.55 79.00L339.59 78.25L339.74 77.50L340.02 76.75L340.30 76.25L340.75 75.72L341.25 75.36L342.00 75.13L342.50 75.14L343.00 75.28L343.50 75.55L344.03 76.00L344.43 76.50L344.75 77.07L345.01 77.75L345.17 78.50L345.22 79.25L345.15 80.00L344.74 81.25L344.44 81.75L344.00 82.24L343.50 82.61L343.00 82.83ZM342.75 82.07L342.25 82.12L341.75 82.03L341.00 81.53L340.46 80.75L340.25 80.22L340.10 79.50L340.11 78.25L340.25 77.66L340.50 77.06L340.75 76.67L341.18 76.25L341.50 76.05L342.00 75.91L342.50 75.93L343.00 76.11L343.75 76.74L344.31 77.75L344.54 78.75L344.51 79.75L344.20 80.75L343.90 81.25L343.50 81.67L342.75 82.07ZM342.50 81.32L342.00 81.31L341.75 81.23L341.25 80.86L340.98 80.50L340.75 80.01L340.59 79.25L340.65 78.25L340.93 77.50L341.50 76.87L342.00 76.68L342.50 76.72L342.75 76.82L343.25 77.21L343.73 78.00L343.90 78.75L343.85 79.75L343.56 80.50L343.00 81.11L342.50 81.32Z" fill="none" stroke="#3a3a3a" stroke-width="0.6"/><path d="M342.50 80.51L342.00 80.52L341.57 80.25L341.25 79.77L341.12 79.25L341.11 78.75L341.25 78.17L341.51 77.75L342.00 77.46L342.50 77.52L342.82 77.75L343.16 78.25L343.30 78.75L343.31 79.25L343.19 79.75L342.88 80.25L342.50 80.51Z" fill="#fff"/><path d="M327.75 100.52L326.75 100.67L325.50 100.71L324.00 100.69L322.75 100.54L322.00 100.36L321.00 99.96L320.00 99.34L319.33 98.75L318.66 98.00L317.98 97.00L317.45 96.00L316.93 94.75L316.15 92.00L315.64 88.75L315.44 86.25L315.35 83.75L315.42 76.25L315.59 73.75L315.83 71.75L316.15 70.00L316.60 68.25L317.12 66.75L317.70 65.50L318.48 64.25L319.25 63.33L320.25 62.49L321.25 61.92L322.25 61.57L323.50 61.35L326.25 61.30L327.25 61.39L328.25 61.60L329.00 61.86L330.00 62.38L331.25 63.43L331.92 64.25L332.56 65.25L333.06 66.25L333.56 67.50L333.95 68.75L334.35 70.50L334.78 73.50L334.94 75.50L335.05 78.50L334.99 85.50L334.67 89.50L334.08 92.75L333.65 94.25L333.06 95.75L332.42 97.00L331.53 98.25L330.75 99.05L329.75 99.77L328.75 100.24L327.75 100.52Z" fill="#2a2a2a"/><path d="M327.25 98.03L326.25 98.14L324.75 98.16L323.75 98.11L322.75 97.94L322.00 97.71L321.25 97.35L320.50 96.82L320.00 96.36L319.29 95.50L318.81 94.75L317.92 92.75L317.31 90.50L316.85 87.50L316.63 83.25L316.69 76.75L317.04 73.00L317.36 71.25L317.68 70.00L318.11 68.75L318.68 67.50L319.29 66.50L320.00 65.64L320.75 64.98L321.75 64.40L322.75 64.06L323.75 63.89L326.25 63.86L327.75 64.08L328.50 64.33L329.25 64.71L329.98 65.25L330.50 65.75L331.11 66.50L331.59 67.25L332.09 68.25L332.48 69.25L333.15 71.75L333.55 74.50L333.77 78.75L333.72 85.00L333.40 88.75L332.86 91.50L332.39 93.00L331.97 94.00L331.44 95.00L330.72 96.00L330.00 96.74L329.25 97.29L328.25 97.76L327.25 98.03Z" fill="#131313"/><path d="M328.00 102.80L327.00 102.94L325.50 103.00L323.75 102.97L322.50 102.82L321.50 102.57L320.50 102.16L319.50 101.54L318.75 100.91L318.00 100.09L317.39 99.25L316.68 98.00L316.12 96.75L315.60 95.25L315.15 93.50L314.57 90.00L314.34 87.50L314.22 84.25L314.20 79.50L314.27 76.00L314.40 73.75L314.63 71.50L314.90 69.75L315.39 67.50L315.93 65.75L316.68 64.00L317.56 62.50L318.50 61.34L319.50 60.46L320.50 59.84L321.75 59.36L323.25 59.07L326.50 59.02L327.50 59.11L328.50 59.32L329.50 59.66L330.50 60.19L331.25 60.74L332.00 61.45L332.66 62.25L333.32 63.25L333.85 64.25L334.38 65.50L334.87 67.00L335.31 68.75L335.86 72.25L336.09 75.00L336.18 77.50L336.14 85.75L335.83 90.00L335.59 91.75L335.07 94.25L334.55 96.00L333.85 97.75L333.17 99.00L332.27 100.25L331.25 101.26L330.25 101.97L329.25 102.44L328.00 102.80ZM327.25 102.03L326.00 102.12L324.00 102.10L323.00 102.01L322.00 101.81L321.00 101.46L320.25 101.07L319.50 100.54L318.65 99.75L318.00 98.95L317.38 98.00L316.64 96.50L316.17 95.25L315.39 92.25L314.87 88.50L314.64 83.50L314.72 76.00L314.87 73.50L315.14 71.25L315.44 69.50L315.94 67.50L316.44 66.00L317.11 64.50L317.86 63.25L318.89 62.00L320.00 61.09L321.00 60.54L322.25 60.13L323.50 59.93L325.00 59.88L326.75 59.92L327.75 60.05L328.75 60.30L329.50 60.59L330.50 61.16L331.25 61.76L331.97 62.50L332.71 63.50L333.42 64.75L333.86 65.75L334.39 67.25L335.10 70.25L335.54 73.75L335.70 76.25L335.76 79.25L335.74 83.75L335.65 86.75L335.42 89.50L335.18 91.25L334.85 93.00L334.39 94.75L333.86 96.25L333.16 97.75L332.37 99.00L331.51 100.00L330.50 100.84L329.50 101.41L328.25 101.85L327.25 102.03ZM327.00 101.26L325.75 101.33L324.00 101.31L323.00 101.21L322.00 100.99L321.00 100.62L320.25 100.20L319.50 99.63L318.75 98.88L318.07 98.00L317.35 96.75L316.89 95.75L316.36 94.25L315.90 92.50L315.61 91.00L315.21 87.50L315.03 82.50L315.05 78.25L315.14 75.50L315.34 73.00L315.61 71.00L315.90 69.50L316.36 67.75L316.89 66.25L317.61 64.75L318.44 63.50L319.25 62.59L320.25 61.80L321.25 61.27L322.50 60.88L323.75 60.71L326.50 60.70L327.50 60.81L328.50 61.04L329.50 61.43L330.25 61.87L331.00 62.46L331.75 63.24L332.33 64.00L332.93 65.00L333.40 66.00L333.96 67.50L334.65 70.25L335.16 74.00L335.37 79.00L335.28 86.00L335.13 88.25L334.87 90.50L334.61 92.00L334.12 94.00L333.61 95.50L332.93 97.00L332.15 98.25L331.31 99.25L330.25 100.13L329.25 100.69L328.00 101.10L327.00 101.26Z" fill="none" stroke="#2a2a2a" stroke-width="0.5"/><path d="M327.50 99.77L326.50 99.89L325.00 99.92L323.75 99.88L322.75 99.74L321.75 99.45L321.00 99.11L319.75 98.21L319.00 97.41L318.36 96.50L317.38 94.50L316.61 92.00L316.06 88.75L315.86 86.50L315.76 84.00L315.81 76.50L316.15 72.50L316.45 70.75L316.87 69.00L317.38 67.50L317.94 66.25L318.69 65.00L319.50 64.03L320.25 63.37L321.25 62.76L322.25 62.38L323.50 62.14L326.25 62.10L328.00 62.34L329.00 62.69L329.75 63.09L331.00 64.13L331.71 65.00L332.19 65.75L333.12 67.75L333.60 69.25L333.90 70.50L334.37 73.50L334.64 78.00L334.61 85.00L334.31 89.00L334.09 90.50L333.66 92.50L333.12 94.25L332.59 95.50L331.88 96.75L331.25 97.59L330.50 98.35L329.50 99.06L328.50 99.50L327.50 99.77ZM326.00 98.50L323.50 98.44L322.00 98.08L321.25 97.73L320.50 97.22L319.75 96.52L319.25 95.91L318.66 95.00L318.17 94.00L317.39 91.75L316.85 89.00L316.54 85.75L316.44 79.75L316.60 75.25L317.06 71.75L317.39 70.25L317.78 69.00L318.28 67.75L318.81 66.75L319.50 65.77L320.25 64.98L321.00 64.42L322.00 63.92L323.00 63.64L324.25 63.50L326.75 63.55L328.25 63.87L329.00 64.19L329.75 64.66L330.50 65.32L331.08 66.00L331.73 67.00L332.23 68.00L332.62 69.00L333.07 70.50L333.59 73.25L333.88 76.50L333.96 82.50L333.82 86.50L333.39 90.00L333.07 91.50L332.62 93.00L332.12 94.25L331.43 95.50L330.75 96.41L330.00 97.15L329.25 97.67L328.25 98.13L327.25 98.39L326.00 98.50ZM326.75 97.04L324.25 97.09L322.75 96.86L321.50 96.35L320.75 95.82L320.25 95.34L319.58 94.50L319.12 93.75L318.36 92.00L317.71 89.50L317.33 86.75L317.15 82.75L317.22 77.00L317.36 75.00L317.58 73.25L317.87 71.75L318.20 70.50L318.65 69.25L319.12 68.25L319.75 67.26L320.50 66.41L321.25 65.81L322.00 65.40L323.00 65.08L324.00 64.93L326.25 64.92L327.75 65.17L329.00 65.72L329.73 66.25L330.25 66.77L330.82 67.50L331.28 68.25L332.12 70.25L332.69 72.50L333.09 75.50L333.25 79.50L333.16 85.50L332.82 88.75L332.20 91.50L331.86 92.50L331.28 93.75L330.64 94.75L330.00 95.50L329.25 96.12L328.50 96.55L327.75 96.83L326.75 97.04ZM327.25 95.52L325.75 95.69L324.50 95.69L323.50 95.59L322.25 95.22L321.50 94.80L321.00 94.40L320.00 93.21L319.13 91.50L318.58 89.75L318.13 87.25L317.87 83.50L317.89 78.00L318.13 74.75L318.64 72.00L319.04 70.75L319.46 69.75L320.00 68.79L320.60 68.00L321.25 67.39L322.00 66.90L322.75 66.59L323.75 66.37L325.75 66.31L327.25 66.48L328.50 66.95L329.56 67.75L330.54 69.00L331.37 70.75L331.93 72.75L332.30 75.00L332.53 78.50L332.52 83.75L332.30 87.00L331.82 89.75L331.45 91.00L331.06 92.00L330.54 93.00L330.01 93.75L329.50 94.31L328.75 94.90L328.00 95.28L327.25 95.52ZM326.25 94.25L324.25 94.26L323.00 94.04L322.00 93.57L321.00 92.71L320.17 91.50L319.45 89.75L318.93 87.50L318.67 85.25L318.56 81.75L318.63 77.25L318.93 74.50L319.45 72.25L319.82 71.25L320.25 70.36L320.75 69.60L321.28 69.00L321.75 68.60L322.50 68.16L323.25 67.89L324.25 67.74L326.25 67.75L327.50 68.00L328.50 68.49L329.50 69.41L330.35 70.75L330.95 72.25L331.43 74.25L331.73 76.75L331.85 80.25L331.76 84.75L331.47 87.50L330.95 89.75L330.58 90.75L330.08 91.75L329.57 92.50L329.12 93.00L328.50 93.51L327.75 93.91L327.00 94.14L326.25 94.25ZM326.75 92.76L325.50 92.88L323.75 92.78L322.75 92.47L321.75 91.78L320.92 90.75L320.25 89.37L319.78 87.75L319.45 85.75L319.27 82.75L319.30 78.25L319.55 75.50L319.96 73.50L320.64 71.75L321.00 71.12L321.50 70.47L322.00 70.00L322.50 69.66L323.25 69.34L324.00 69.18L325.75 69.13L327.00 69.30L328.00 69.72L328.75 70.32L329.50 71.28L330.10 72.50L330.57 74.00L330.92 76.00L331.12 79.00L331.12 83.25L330.92 86.00L330.57 88.00L330.00 89.75L329.63 90.50L329.13 91.25L328.50 91.92L328.00 92.28L327.50 92.53L326.75 92.76ZM327.00 91.25L325.75 91.46L324.00 91.40L323.00 91.09L322.25 90.59L321.53 89.75L320.99 88.75L320.50 87.29L320.20 85.75L319.99 83.25L319.98 79.25L320.14 76.75L320.49 74.75L321.00 73.22L321.75 71.94L322.25 71.41L322.75 71.05L323.25 70.80L324.00 70.60L325.50 70.53L326.50 70.62L327.50 70.96L328.25 71.51L329.00 72.45L329.50 73.46L329.91 74.75L330.20 76.25L330.41 78.75L330.43 82.50L330.31 84.75L330.02 86.75L329.52 88.50L328.87 89.75L328.50 90.24L328.00 90.71L327.00 91.25ZM326.00 90.03L324.75 90.06L323.75 89.91L323.00 89.56L322.25 88.88L321.69 88.00L321.25 86.87L320.94 85.50L320.75 84.00L320.67 81.75L320.72 78.50L320.90 76.75L321.25 75.13L321.75 73.88L322.50 72.84L323.00 72.44L323.50 72.18L324.50 71.96L325.75 71.95L326.75 72.12L327.50 72.50L328.05 73.00L328.71 74.00L329.11 75.00L329.47 76.50L329.65 78.00L329.73 80.25L329.68 83.50L329.51 85.25L329.19 86.75L328.71 88.00L328.00 89.06L327.50 89.50L327.00 89.78L326.00 90.03ZM326.25 88.57L325.25 88.66L324.25 88.59L323.50 88.33L323.00 87.97L322.50 87.38L322.00 86.37L321.74 85.50L321.50 84.10L321.38 82.25L321.40 79.25L321.52 77.75L321.80 76.25L322.25 75.06L322.79 74.25L323.50 73.67L324.00 73.47L324.50 73.37L325.50 73.35L326.25 73.43L327.00 73.73L327.50 74.13L328.00 74.78L328.44 75.75L328.72 76.75L328.91 78.00L329.02 79.75L329.01 82.50L328.88 84.25L328.66 85.50L328.25 86.74L327.75 87.59L327.00 88.27L326.25 88.57ZM326.50 87.02L325.75 87.23L324.75 87.24L324.00 87.07L323.50 86.77L323.03 86.25L322.74 85.75L322.46 85.00L322.25 84.04L322.10 82.50L322.09 80.00L322.18 78.50L322.40 77.25L322.75 76.24L323.25 75.47L323.75 75.06L324.50 74.79L325.25 74.75L326.00 74.81L326.50 74.98L327.00 75.32L327.50 75.95L327.75 76.46L328.15 78.00L328.30 79.50L328.32 81.50L328.27 83.00L328.11 84.25L327.85 85.25L327.50 86.05L327.00 86.68L326.50 87.02ZM325.75 85.81L324.50 85.78L324.00 85.55L323.75 85.35L323.48 85.00L323.13 84.25L322.84 82.75L322.81 79.75L323.06 78.00L323.34 77.25L323.75 76.65L324.25 76.31L324.75 76.18L325.50 76.17L326.00 76.25L326.47 76.50L326.74 76.75L327.25 77.68L327.53 79.00L327.60 82.00L327.50 83.25L327.34 84.00L327.06 84.75L326.75 85.24L326.25 85.64L325.75 85.81ZM326.00 84.26L325.25 84.43L324.75 84.39L324.39 84.25L323.93 83.75L323.60 82.75L323.50 81.86L323.49 80.50L323.65 79.00L324.00 78.13L324.25 77.85L324.75 77.61L325.50 77.58L326.00 77.74L326.50 78.29L326.76 79.00L326.91 80.50L326.84 82.50L326.75 83.02L326.50 83.71L326.00 84.26Z" fill="none" stroke="#333" stroke-width="0.3"/><path d="M325.50 82.26L325.25 82.31L324.92 82.25L324.75 82.11L324.62 81.75L324.55 81.00L324.62 80.25L324.75 79.89L325.00 79.71L325.50 79.74L325.71 80.00L325.79 80.25L325.84 81.00L325.79 81.75L325.71 82.00L325.50 82.26Z" fill="#555" stroke="none"/><path d="M441.50 95.53L440.00 95.66L438.50 95.53L437.00 95.13L435.50 94.41L434.21 93.50L433.00 92.30L432.06 91.00L431.29 89.50L430.84 88.25L430.50 86.75L430.34 85.25L430.35 83.75L430.61 81.50L432.09 73.25L432.42 71.75L432.93 70.00L433.41 68.75L434.13 67.25L434.90 66.00L435.64 65.00L436.50 64.02L437.50 63.05L439.00 61.80L440.75 60.54L442.25 59.63L443.75 58.91L445.00 58.49L446.25 58.24L447.50 58.18L448.75 58.34L450.25 58.85L451.00 59.27L451.65 59.75L452.25 60.32L452.82 61.00L453.72 62.50L454.34 64.25L454.69 66.25L454.72 68.50L454.43 70.75L453.91 72.75L453.38 74.25L452.60 76.00L451.24 78.75L450.56 80.50L450.16 82.25L449.73 85.75L449.46 87.25L448.93 89.00L448.37 90.25L447.78 91.25L447.04 92.25L446.25 93.09L445.50 93.73L444.50 94.41L443.50 94.92L442.50 95.29L441.50 95.53ZM441.75 94.56L440.25 94.75L438.75 94.65L437.50 94.35L436.00 93.68L434.75 92.82L433.75 91.86L432.90 90.75L432.08 89.25L431.61 88.00L431.31 86.75L431.15 85.50L431.11 84.00L431.32 81.75L432.61 73.25L433.31 70.50L433.88 69.00L434.36 68.00L435.09 66.75L435.81 65.75L436.75 64.68L437.75 63.72L439.00 62.70L440.50 61.63L442.00 60.70L443.50 59.95L444.75 59.50L446.00 59.24L447.25 59.17L448.25 59.28L449.00 59.46L449.75 59.76L451.00 60.54L452.00 61.53L452.93 63.00L453.58 64.75L453.90 66.50L453.95 68.50L453.71 70.50L453.30 72.25L452.70 74.00L451.92 75.75L450.42 78.75L449.75 80.47L449.36 82.25L448.80 86.50L448.41 88.00L447.82 89.50L447.26 90.50L446.75 91.25L446.00 92.12L445.25 92.82L444.50 93.37L443.50 93.94L442.50 94.35L441.75 94.56ZM440.75 93.78L439.50 93.80L438.25 93.60L437.00 93.17L435.75 92.45L434.75 91.62L433.78 90.50L433.02 89.25L432.49 88.00L432.20 87.00L432.02 86.00L431.91 84.75L431.91 83.50L432.82 75.25L433.29 72.50L434.04 70.00L434.59 68.75L435.13 67.75L435.80 66.75L436.50 65.87L438.25 64.18L439.75 63.05L441.25 62.08L442.50 61.37L443.75 60.80L445.00 60.40L446.00 60.22L447.25 60.18L448.25 60.34L449.50 60.81L450.75 61.69L451.67 62.75L452.36 64.00L452.86 65.50L453.13 67.25L453.13 69.00L452.84 71.00L452.45 72.50L451.90 74.00L449.69 78.50L449.00 80.24L448.60 82.00L448.19 85.25L447.90 86.75L447.44 88.25L446.86 89.50L446.40 90.25L445.75 91.09L445.00 91.85L444.25 92.45L443.50 92.91L442.50 93.37L441.75 93.60L440.75 93.78ZM441.00 92.77L439.75 92.84L438.75 92.72L437.50 92.34L436.50 91.82L435.43 91.00L434.53 90.00L433.88 89.00L433.32 87.75L433.02 86.75L432.82 85.75L432.70 83.50L433.29 75.75L433.70 73.00L434.41 70.50L435.34 68.50L436.55 66.75L437.25 65.98L438.25 65.06L439.50 64.12L440.75 63.31L442.25 62.45L443.50 61.87L444.75 61.44L445.75 61.25L446.75 61.20L447.75 61.32L449.00 61.77L450.00 62.44L450.96 63.50L451.65 64.75L452.11 66.25L452.31 67.75L452.30 69.25L452.05 71.00L451.65 72.50L451.09 74.00L448.96 78.25L448.25 80.00L447.83 81.75L447.16 86.25L446.80 87.50L446.26 88.75L445.27 90.25L444.75 90.82L444.00 91.47L443.25 91.97L442.50 92.34L441.00 92.77ZM440.75 91.77L439.75 91.82L438.75 91.69L437.75 91.36L436.75 90.81L436.00 90.21L435.14 89.25L434.52 88.25L434.09 87.25L433.79 86.25L433.61 85.25L433.49 82.75L433.79 76.00L433.95 74.50L434.27 72.75L434.87 70.75L435.84 68.75L436.50 67.77L437.14 67.00L438.75 65.54L440.00 64.67L441.25 63.93L442.50 63.29L443.75 62.76L444.75 62.45L445.75 62.29L446.75 62.28L447.50 62.40L448.50 62.78L449.50 63.47L450.25 64.33L450.89 65.50L451.27 66.75L451.46 68.25L451.42 69.75L451.17 71.25L450.82 72.50L450.35 73.75L448.25 77.94L447.52 79.75L447.02 81.75L446.38 85.75L446.03 87.00L445.62 88.00L445.20 88.75L444.66 89.50L443.50 90.63L442.25 91.36L441.50 91.62L440.75 91.77ZM441.25 90.57L440.25 90.73L439.25 90.68L438.25 90.41L437.50 90.04L436.74 89.50L436.00 88.73L435.34 87.75L434.89 86.75L434.59 85.75L434.41 84.75L434.24 82.25L434.28 76.50L434.42 74.75L434.66 73.25L435.23 71.25L436.04 69.50L437.08 68.00L438.50 66.60L439.50 65.87L440.75 65.12L442.25 64.37L443.50 63.85L445.25 63.41L446.25 63.37L447.00 63.48L448.00 63.84L448.75 64.35L449.50 65.18L449.97 66.00L450.33 67.00L450.54 68.25L450.56 69.50L450.36 71.00L450.04 72.25L449.58 73.50L447.50 77.74L446.80 79.50L446.27 81.50L445.59 85.25L445.31 86.25L444.92 87.25L444.25 88.41L443.50 89.27L442.50 90.04L441.25 90.57ZM440.50 89.52L439.75 89.54L439.00 89.42L438.25 89.14L437.50 88.68L437.00 88.23L436.40 87.50L435.97 86.75L435.57 85.75L435.31 84.75L435.08 83.25L434.79 78.50L434.85 75.50L435.23 73.00L435.89 71.00L436.69 69.50L437.75 68.16L439.00 67.07L440.00 66.42L441.00 65.89L443.25 64.96L445.00 64.55L445.75 64.52L446.50 64.61L447.50 64.99L448.20 65.50L448.75 66.15L449.20 67.00L449.49 68.00L449.61 69.00L449.57 70.25L449.35 71.50L448.68 73.50L447.00 77.02L446.19 79.00L445.53 81.25L444.70 85.00L444.04 86.75L443.42 87.75L442.50 88.67L441.50 89.25L440.50 89.52ZM441.00 88.04L440.25 88.20L439.50 88.17L438.75 87.94L438.25 87.67L437.75 87.27L437.25 86.71L436.80 86.00L436.46 85.25L436.15 84.25L435.84 82.75L435.37 78.75L435.32 76.00L435.42 74.75L435.63 73.50L436.15 71.75L436.88 70.25L437.81 69.00L439.00 67.91L439.75 67.41L440.75 66.89L442.75 66.14L444.50 65.76L445.25 65.73L446.00 65.83L446.75 66.11L447.32 66.50L447.78 67.00L448.21 67.75L448.45 68.50L448.58 69.50L448.55 70.50L448.38 71.50L447.84 73.25L446.25 76.89L445.50 78.82L444.88 80.75L444.00 84.02L443.50 85.42L443.00 86.36L442.50 87.01L441.75 87.66L441.00 88.04ZM440.75 86.50L440.25 86.62L439.50 86.58L439.00 86.40L438.50 86.08L437.75 85.25L437.33 84.50L437.00 83.71L436.63 82.50L436.29 81.00L435.87 78.00L435.84 75.50L436.14 73.50L436.61 72.00L437.25 70.72L438.18 69.50L439.25 68.58L440.50 67.87L442.25 67.27L444.00 66.99L445.25 67.09L446.00 67.38L446.50 67.75L446.91 68.25L447.17 68.75L447.38 69.50L447.44 70.25L447.41 71.00L447.24 72.00L446.70 73.75L445.00 78.19L442.95 84.00L442.50 84.88L442.00 85.59L441.50 86.08L440.75 86.50ZM440.25 84.78L439.75 84.78L439.25 84.61L438.50 84.01L437.75 82.86L437.20 81.50L436.66 79.50L436.36 77.50L436.34 75.50L436.59 73.75L436.97 72.50L437.58 71.25L438.32 70.25L439.25 69.41L440.50 68.71L441.75 68.33L443.00 68.19L444.25 68.31L445.00 68.61L445.50 69.00L445.86 69.50L446.07 70.00L446.21 70.75L446.22 71.50L445.92 73.25L445.41 75.00L444.37 78.00L443.42 80.50L442.65 82.25L442.00 83.40L441.50 84.04L441.00 84.47L440.25 84.78ZM440.75 82.75L440.00 82.95L439.25 82.72L438.50 82.03L437.88 81.00L437.31 79.50L436.97 78.00L436.82 76.25L436.91 74.75L437.17 73.50L437.66 72.25L438.25 71.28L438.96 70.50L439.75 69.91L440.75 69.47L441.75 69.26L442.75 69.28L443.50 69.47L444.00 69.72L444.34 70.00L444.72 70.50L444.93 71.00L445.07 71.75L445.01 73.25L444.78 74.50L444.29 76.25L443.69 78.00L443.08 79.50L442.00 81.50L441.50 82.14L440.75 82.75ZM440.50 81.33L439.75 81.37L439.25 81.15L438.50 80.38L438.02 79.50L437.66 78.50L437.40 77.25L437.32 76.00L437.41 74.75L437.63 73.75L438.00 72.77L438.44 72.00L439.00 71.33L439.75 70.74L440.50 70.38L441.25 70.22L442.00 70.22L442.50 70.34L443.00 70.57L443.50 71.00L443.83 71.50L444.01 72.00L444.14 72.75L444.08 74.25L443.84 75.50L443.48 76.75L442.57 79.00L442.00 79.97L441.50 80.62L441.00 81.07L440.50 81.33ZM440.50 80.07L440.00 80.14L439.50 79.99L439.00 79.60L438.50 78.88L438.14 78.00L437.90 77.00L437.82 76.00L437.88 75.00L438.09 74.00L438.37 73.25L438.75 72.57L439.22 72.00L439.75 71.56L440.25 71.29L441.00 71.11L441.50 71.12L442.00 71.24L442.45 71.50L442.75 71.78L443.06 72.25L443.34 73.25L443.32 74.75L442.94 76.50L442.25 78.20L441.50 79.33L441.00 79.81L440.50 80.07ZM440.25 79.04L439.75 78.97L439.50 78.84L439.00 78.32L438.75 77.88L438.52 77.25L438.37 76.50L438.32 75.75L438.38 75.00L438.75 73.70L439.00 73.23L439.50 72.61L440.25 72.11L440.75 71.98L441.25 71.99L441.75 72.18L442.00 72.37L442.44 73.00L442.68 74.00L442.63 75.25L442.25 76.74L441.75 77.79L441.00 78.69L440.50 78.98L440.25 79.04ZM440.25 78.05L439.75 77.93L439.50 77.73L439.17 77.25L438.87 76.25L438.89 75.00L439.21 74.00L439.75 73.25L440.25 72.92L440.75 72.82L441.00 72.84L441.50 73.10L441.92 73.75L442.07 74.50L442.01 75.50L441.73 76.50L441.25 77.38L440.75 77.86L440.25 78.05Z" fill="none" stroke="#3a3a3a" stroke-width="0.6"/><path d="M440.50 77.06L440.25 77.12L440.00 77.06L439.75 76.88L439.43 76.25L439.35 75.50L439.47 74.75L439.75 74.19L440.25 73.74L440.75 73.67L441.00 73.77L441.36 74.25L441.48 74.75L441.49 75.25L441.22 76.25L440.90 76.75L440.50 77.06Z" fill="#fff"/><path d="M424.00 103.51L422.75 103.60L421.50 103.49L420.50 103.20L419.50 102.66L418.50 101.81L417.61 100.75L416.84 99.50L416.14 98.00L415.60 96.50L415.12 94.75L414.66 92.50L414.42 90.75L414.13 87.25L413.76 78.00L413.78 73.75L414.12 69.75L414.36 68.25L414.72 66.75L415.12 65.50L415.66 64.25L416.39 63.00L417.00 62.19L417.75 61.41L418.75 60.64L419.75 60.11L420.50 59.84L421.50 59.61L422.75 59.50L424.00 59.52L425.00 59.65L426.00 59.91L426.75 60.21L427.75 60.79L428.50 61.37L429.25 62.14L429.91 63.00L430.86 64.75L431.34 66.00L431.69 67.25L432.11 69.75L432.33 73.25L432.27 76.50L431.74 82.75L431.34 89.25L430.89 92.75L430.29 95.50L429.83 97.00L429.13 98.75L428.47 100.00L427.75 101.07L427.00 101.91L426.00 102.72L425.00 103.23L424.00 103.51Z" fill="#2a2a2a"/><path d="M424.00 100.76L423.00 100.87L421.75 100.79L420.75 100.50L420.00 100.09L419.25 99.49L418.39 98.50L417.62 97.25L417.05 96.00L416.60 94.75L416.12 93.00L415.58 89.75L415.33 86.75L414.95 78.25L414.96 74.50L415.33 70.50L415.89 67.75L416.62 65.75L417.17 64.75L417.75 63.92L418.50 63.11L419.25 62.52L420.00 62.08L421.00 61.70L421.75 61.54L422.75 61.45L423.75 61.46L424.75 61.58L426.25 62.07L427.00 62.50L427.75 63.08L428.39 63.75L428.95 64.50L429.86 66.25L430.48 68.25L430.86 70.50L431.08 73.75L431.02 77.00L430.50 83.12L430.16 88.50L429.82 91.25L429.29 93.75L428.83 95.25L428.34 96.50L427.84 97.50L427.21 98.50L426.50 99.34L425.75 99.98L425.00 100.43L424.00 100.76Z" fill="#131313"/><path d="M423.25 106.01L421.75 105.96L420.50 105.67L419.50 105.21L418.50 104.50L417.50 103.49L416.60 102.25L415.65 100.50L414.95 98.75L414.40 97.00L413.93 95.00L413.32 91.00L413.06 87.50L412.64 76.00L412.81 71.25L413.20 68.00L413.57 66.25L413.94 65.00L414.42 63.75L415.05 62.50L415.69 61.50L416.50 60.50L417.50 59.57L418.50 58.89L419.50 58.40L420.50 58.07L421.75 57.84L423.00 57.78L424.25 57.82L425.25 57.95L426.50 58.29L427.50 58.73L428.50 59.35L429.50 60.19L430.25 61.02L430.96 62.00L431.66 63.25L432.09 64.25L432.59 65.75L432.90 67.00L433.32 70.00L433.46 73.75L433.37 76.75L432.76 83.50L432.30 90.75L432.06 92.75L431.67 95.00L430.90 98.00L430.37 99.50L429.58 101.25L428.67 102.75L427.75 103.89L426.75 104.78L425.75 105.40L424.50 105.85L423.25 106.01ZM424.00 105.01L422.50 105.09L421.25 104.94L420.00 104.51L419.00 103.90L418.00 102.99L417.20 102.00L416.43 100.75L415.61 99.00L415.07 97.50L414.58 95.75L414.15 93.75L413.81 91.50L413.47 87.25L413.08 77.50L413.12 73.25L413.32 70.50L413.53 68.75L414.13 66.00L414.55 64.75L415.10 63.50L415.83 62.25L416.50 61.36L417.25 60.57L418.25 59.78L419.25 59.21L420.25 58.82L421.50 58.54L422.75 58.44L424.00 58.46L425.00 58.57L426.00 58.81L427.00 59.19L427.75 59.59L428.75 60.31L429.50 61.03L430.30 62.00L430.93 63.00L431.54 64.25L431.93 65.25L432.36 66.75L432.82 69.50L433.02 73.00L432.94 76.75L432.39 83.00L431.93 90.25L431.45 93.75L430.83 96.50L430.18 98.50L429.55 100.00L428.89 101.25L428.00 102.52L427.25 103.34L426.25 104.14L425.25 104.67L424.00 105.01ZM422.75 104.25L421.50 104.15L420.50 103.87L419.50 103.35L418.50 102.55L417.58 101.50L416.77 100.25L416.04 98.75L415.39 97.00L414.89 95.25L414.57 93.75L414.04 90.00L413.84 87.25L413.52 79.50L413.44 75.00L413.67 71.00L414.13 67.75L414.84 65.25L415.38 64.00L415.93 63.00L416.64 62.00L417.50 61.07L418.25 60.46L419.25 59.85L420.25 59.43L421.25 59.18L422.25 59.06L423.50 59.03L424.75 59.13L425.75 59.35L426.50 59.61L427.50 60.10L428.50 60.81L429.22 61.50L429.85 62.25L430.52 63.25L431.15 64.50L431.54 65.50L432.18 68.00L432.53 71.00L432.64 74.75L432.54 77.00L432.00 83.11L431.69 88.50L431.46 91.00L430.88 94.50L430.13 97.25L429.45 99.00L428.68 100.50L427.82 101.75L427.00 102.65L426.00 103.41L425.00 103.90L424.00 104.17L422.75 104.25Z" fill="none" stroke="#2a2a2a" stroke-width="0.5"/><path d="M423.00 102.76L421.75 102.69L420.75 102.43L419.75 101.93L418.75 101.12L418.00 100.25L417.19 99.00L416.58 97.75L415.92 96.00L415.44 94.25L415.12 92.75L414.65 89.25L414.17 79.25L414.10 75.75L414.30 71.75L414.69 68.75L415.33 66.25L415.82 65.00L416.34 64.00L417.00 63.01L417.66 62.25L418.50 61.51L419.25 61.01L420.00 60.64L421.00 60.32L422.00 60.14L423.25 60.09L424.25 60.14L425.25 60.31L426.25 60.63L427.00 60.99L427.75 61.48L428.50 62.12L429.25 62.96L429.80 63.75L430.67 65.50L431.10 66.75L431.41 68.00L431.82 71.00L431.95 74.50L431.85 77.25L431.35 83.00L430.88 90.00L430.38 93.25L429.68 96.00L429.13 97.50L428.41 99.00L427.75 100.05L426.96 101.00L426.00 101.83L425.00 102.37L424.00 102.66L423.00 102.76ZM422.75 101.25L421.75 101.17L420.75 100.89L419.75 100.32L419.00 99.67L418.24 98.75L417.50 97.53L416.91 96.25L416.38 94.75L415.68 91.75L415.30 88.75L414.84 79.50L414.76 75.75L414.93 72.50L415.39 69.00L415.69 67.75L416.09 66.50L416.91 64.75L417.40 64.00L418.02 63.25L418.75 62.57L419.50 62.05L420.25 61.68L421.25 61.36L422.25 61.20L423.25 61.17L425.00 61.35L426.00 61.67L426.75 62.04L427.50 62.55L428.25 63.24L428.88 64.00L429.37 64.75L430.18 66.50L430.56 67.75L430.83 69.00L431.15 71.75L431.26 75.00L431.16 77.50L430.72 82.50L430.23 89.50L429.82 92.25L429.14 95.00L428.59 96.50L427.98 97.75L427.25 98.90L426.50 99.77L425.75 100.39L424.75 100.93L423.75 101.19L422.75 101.25ZM424.25 99.55L423.25 99.72L422.00 99.69L421.00 99.43L420.25 99.04L419.50 98.45L418.75 97.60L418.19 96.75L417.57 95.50L417.09 94.25L416.66 92.75L416.11 89.75L415.84 86.75L415.47 79.00L415.43 75.50L415.65 72.25L416.11 69.25L416.42 68.00L416.87 66.75L417.35 65.75L417.99 64.75L418.64 64.00L419.25 63.46L420.00 62.98L420.75 62.64L421.75 62.37L422.75 62.27L424.50 62.37L425.25 62.54L426.00 62.83L427.25 63.64L427.87 64.25L428.46 65.00L429.28 66.50L429.94 68.50L430.33 70.75L430.56 73.75L430.51 77.00L430.00 83.09L429.68 88.00L429.38 90.50L428.94 92.75L428.14 95.25L427.55 96.50L427.00 97.39L426.50 98.03L425.75 98.75L425.00 99.24L424.25 99.55ZM424.00 98.06L423.00 98.19L422.00 98.14L421.25 97.95L420.50 97.57L419.75 96.96L419.13 96.25L418.50 95.25L418.00 94.19L417.57 93.00L417.23 91.75L416.71 88.75L416.48 86.00L416.12 78.75L416.10 75.25L416.35 72.25L416.83 69.50L417.18 68.25L417.57 67.25L418.00 66.39L418.50 65.63L419.04 65.00L419.75 64.38L420.50 63.93L421.25 63.63L422.75 63.39L424.25 63.46L425.00 63.62L425.75 63.92L426.50 64.37L427.00 64.78L428.00 65.98L428.77 67.50L429.31 69.25L429.65 71.25L429.88 74.00L429.83 77.25L429.04 87.25L428.79 89.50L428.37 91.75L428.03 93.00L427.57 94.25L426.64 96.00L426.05 96.75L425.50 97.28L424.75 97.77L424.00 98.06ZM423.75 96.53L423.00 96.62L422.00 96.56L421.25 96.34L420.50 95.89L419.82 95.25L419.27 94.50L418.41 92.75L417.81 90.75L417.35 88.00L417.15 85.50L416.76 78.00L416.78 75.00L417.07 72.25L417.56 69.75L418.25 67.83L419.05 66.50L419.50 65.97L420.25 65.34L420.75 65.04L421.50 64.74L422.25 64.58L423.00 64.53L424.25 64.62L425.50 65.04L426.52 65.75L427.00 66.26L427.53 67.00L428.15 68.25L428.67 70.00L429.06 72.50L429.21 74.75L429.13 77.75L428.36 87.00L428.08 89.25L427.73 91.00L427.10 93.00L426.63 94.00L426.17 94.75L425.54 95.50L425.00 95.97L424.50 96.27L423.75 96.53ZM423.00 95.01L422.25 94.99L421.75 94.88L421.00 94.52L420.50 94.13L420.00 93.57L419.50 92.80L419.01 91.75L418.67 90.75L418.21 88.75L417.93 86.50L417.47 79.50L417.40 76.50L417.54 74.00L417.89 71.75L418.40 69.75L419.04 68.25L419.75 67.21L420.75 66.34L421.25 66.07L422.00 65.83L423.25 65.72L424.50 65.90L425.50 66.35L426.00 66.73L426.50 67.25L427.16 68.25L427.69 69.50L428.13 71.25L428.45 73.50L428.54 75.75L428.41 78.50L427.63 87.00L427.34 89.00L426.93 90.75L426.25 92.52L425.75 93.37L425.25 93.98L424.75 94.42L424.25 94.72L423.75 94.91L423.00 95.01ZM423.50 93.28L423.00 93.34L422.25 93.30L421.50 93.06L421.03 92.75L420.53 92.25L420.17 91.75L419.46 90.25L419.00 88.56L418.69 86.50L418.20 80.50L418.06 77.50L418.11 75.25L418.35 73.25L418.86 71.00L419.43 69.50L420.23 68.25L421.00 67.56L422.00 67.10L423.00 66.97L424.00 67.05L425.00 67.43L425.75 68.01L426.50 69.03L427.04 70.25L427.44 71.75L427.73 73.50L427.87 75.50L427.83 77.25L427.67 79.25L426.89 86.75L426.50 89.02L426.00 90.62L425.25 92.02L424.50 92.80L424.00 93.11L423.50 93.28ZM423.25 91.53L422.25 91.51L421.75 91.33L421.25 90.98L420.51 90.00L420.00 88.79L419.62 87.25L419.37 85.50L418.85 80.00L418.71 77.25L418.78 75.25L419.00 73.64L419.48 71.75L419.97 70.50L420.50 69.62L421.25 68.86L422.00 68.46L423.00 68.29L424.00 68.40L424.75 68.73L425.50 69.41L426.00 70.18L426.45 71.25L426.86 72.75L427.11 74.25L427.20 75.75L427.15 77.50L426.97 79.50L426.18 86.00L425.82 88.00L425.33 89.50L424.75 90.53L424.00 91.24L423.25 91.53ZM423.00 89.54L422.25 89.47L421.83 89.25L421.50 88.96L421.00 88.21L420.56 87.00L420.24 85.50L419.67 81.25L419.45 79.00L419.37 77.00L419.44 75.50L419.66 74.00L420.00 72.75L420.50 71.56L421.00 70.76L421.50 70.25L422.25 69.83L423.00 69.71L423.75 69.79L424.50 70.14L425.00 70.61L425.50 71.37L425.97 72.50L426.25 73.50L426.45 74.75L426.53 76.25L426.47 77.75L426.25 79.78L425.37 85.50L425.05 87.00L424.75 87.89L424.25 88.79L423.75 89.27L423.00 89.54ZM423.25 86.84L422.75 86.93L422.25 86.78L421.75 86.23L421.42 85.50L421.00 83.97L420.44 81.25L420.13 79.00L420.03 77.25L420.07 76.00L420.24 74.75L420.50 73.75L420.80 73.00L421.25 72.24L421.75 71.70L422.25 71.39L423.00 71.24L423.50 71.28L424.00 71.46L424.50 71.86L425.00 72.52L425.35 73.25L425.65 74.25L425.81 75.25L425.86 76.25L425.81 77.75L425.63 79.25L425.25 81.34L424.75 83.52L424.28 85.25L424.00 85.97L423.66 86.50L423.25 86.84ZM423.25 83.09L422.75 83.20L422.25 82.98L422.00 82.70L421.63 82.00L421.25 80.95L421.00 79.94L420.77 78.50L420.69 77.25L420.81 75.50L421.00 74.69L421.27 74.00L421.57 73.50L422.00 73.05L422.50 72.78L423.00 72.71L423.75 72.86L424.25 73.25L424.50 73.57L424.75 74.04L425.00 74.79L425.20 76.50L425.00 78.75L424.50 80.84L424.00 82.13L423.75 82.57L423.25 83.09ZM423.25 80.51L423.00 80.60L422.50 80.52L422.25 80.33L422.00 79.99L421.75 79.45L421.50 78.56L421.35 77.25L421.43 76.00L421.75 74.95L422.25 74.29L422.50 74.14L423.00 74.04L423.50 74.14L424.00 74.57L424.25 75.03L424.40 75.50L424.53 76.50L424.50 77.50L424.25 78.78L423.75 79.99L423.25 80.51Z" fill="none" stroke="#333" stroke-width="0.3"/><path d="M423.00 78.01L422.75 77.96L422.50 77.70L422.36 77.00L422.50 76.24L422.75 75.98L423.00 75.92L423.25 76.03L423.40 76.25L423.50 76.50L423.53 77.00L423.50 77.27L423.30 77.75L423.00 78.01Z" fill="#555" stroke="none"/><path d="M548.25 94.76L547.25 94.84L546.25 94.77L545.25 94.57L544.00 94.13L543.00 93.62L542.00 92.96L541.00 92.12L540.17 91.25L539.38 90.25L538.57 89.00L537.92 87.75L537.40 86.50L536.91 85.00L536.61 83.75L536.21 81.00L536.14 79.50L536.18 78.00L536.35 76.25L536.62 74.75L537.35 72.25L537.88 71.00L538.56 69.75L539.23 68.75L540.00 67.82L540.75 67.09L541.75 66.33L542.75 65.77L543.75 65.36L544.75 65.09L545.75 64.95L546.75 64.92L548.00 65.05L549.00 65.28L550.00 65.65L551.00 66.18L551.75 66.69L552.50 67.31L553.41 68.25L554.19 69.25L554.83 70.25L555.90 72.50L556.68 75.00L556.94 76.25L557.17 78.00L557.24 81.00L557.12 82.50L556.89 84.00L556.62 85.25L556.18 86.75L555.70 88.00L555.10 89.25L554.36 90.50L553.61 91.50L552.75 92.44L552.00 93.10L551.25 93.63L550.25 94.18L549.25 94.55L548.25 94.76ZM547.75 93.75L546.75 93.77L545.75 93.65L544.75 93.39L543.75 92.99L543.00 92.60L542.00 91.93L541.00 91.07L540.25 90.26L539.50 89.28L538.85 88.25L537.81 86.00L537.08 83.50L536.69 80.75L536.67 78.00L536.82 76.50L537.08 75.00L537.40 73.75L537.83 72.50L538.80 70.50L539.45 69.50L540.05 68.75L541.00 67.81L541.75 67.25L542.50 66.79L543.50 66.35L544.50 66.07L545.50 65.92L546.50 65.89L547.50 65.98L548.50 66.19L549.50 66.54L550.50 67.03L551.25 67.52L552.00 68.13L552.87 69.00L553.66 70.00L554.29 71.00L554.82 72.00L555.35 73.25L556.08 75.75L556.45 78.25L556.50 81.00L556.18 83.75L555.83 85.25L555.44 86.50L554.43 88.75L553.82 89.75L553.07 90.75L552.25 91.62L551.50 92.25L550.50 92.90L549.75 93.26L548.75 93.59L547.75 93.75ZM548.50 92.55L547.75 92.68L546.75 92.72L545.75 92.62L544.75 92.38L544.00 92.11L543.00 91.60L542.00 90.93L541.25 90.28L540.50 89.49L539.75 88.51L539.13 87.50L538.62 86.50L537.87 84.50L537.32 82.00L537.11 79.25L537.15 78.00L537.31 76.50L537.87 74.00L538.31 72.75L538.77 71.75L539.33 70.75L540.00 69.81L540.75 68.98L541.50 68.33L542.25 67.82L543.25 67.33L544.00 67.08L545.00 66.89L546.00 66.83L547.00 66.90L548.75 67.32L549.50 67.63L550.50 68.20L551.25 68.74L552.00 69.43L553.28 71.00L554.38 73.00L555.17 75.25L555.62 77.50L555.78 80.00L555.62 82.50L555.10 85.00L554.26 87.25L553.74 88.25L553.09 89.25L552.50 90.00L551.75 90.77L551.00 91.39L550.25 91.86L549.25 92.32L548.50 92.55ZM548.25 91.51L547.50 91.64L546.50 91.68L545.75 91.61L544.75 91.39L544.00 91.13L543.00 90.63L542.25 90.13L541.50 89.51L540.17 88.00L539.13 86.25L538.34 84.25L537.82 82.00L537.60 79.75L537.71 77.25L538.12 75.00L538.90 72.75L539.88 71.00L540.50 70.20L541.25 69.44L542.00 68.86L542.75 68.42L543.50 68.11L544.50 67.85L545.25 67.76L546.25 67.77L548.00 68.11L548.75 68.39L549.75 68.89L551.23 70.00L551.95 70.75L552.54 71.50L553.57 73.25L554.34 75.25L554.80 77.25L555.02 79.75L554.91 82.00L554.41 84.50L553.68 86.50L553.16 87.50L552.51 88.50L551.25 89.91L550.50 90.50L549.75 90.95L548.25 91.51ZM547.75 90.53L546.25 90.65L545.50 90.58L544.50 90.34L543.00 89.68L541.74 88.75L540.50 87.37L539.52 85.75L538.81 84.00L538.28 81.75L538.08 79.50L538.19 77.25L538.64 75.00L539.39 73.00L540.27 71.50L540.87 70.75L541.50 70.13L542.25 69.57L543.00 69.16L543.75 68.88L544.50 68.72L546.00 68.67L547.00 68.83L547.75 69.05L549.25 69.74L550.00 70.24L550.75 70.86L551.96 72.25L552.86 73.75L553.64 75.75L554.08 77.75L554.24 80.00L554.08 82.25L553.63 84.25L552.84 86.25L551.91 87.75L550.75 89.02L550.00 89.59L549.25 90.02L548.50 90.33L547.75 90.53ZM547.50 89.50L546.00 89.64L544.50 89.40L543.75 89.13L543.00 88.75L541.75 87.80L540.64 86.50L539.78 85.00L539.12 83.25L538.70 81.25L538.56 79.00L538.72 77.00L539.17 75.00L539.88 73.25L540.85 71.75L542.00 70.62L543.25 69.90L544.50 69.57L546.00 69.58L547.50 69.96L549.00 70.72L550.25 71.71L551.37 73.00L552.25 74.50L552.91 76.25L553.29 78.00L553.44 80.00L553.29 82.00L552.90 83.75L552.21 85.50L551.28 87.00L550.25 88.11L549.00 88.96L548.25 89.29L547.50 89.50ZM547.00 88.55L546.25 88.65L545.50 88.65L544.25 88.41L543.00 87.84L542.00 87.08L541.00 85.94L540.16 84.50L539.59 83.00L539.19 81.25L539.04 79.50L539.14 77.50L539.48 75.75L540.12 74.00L541.00 72.55L542.00 71.50L543.00 70.85L544.25 70.45L545.50 70.40L546.25 70.52L547.00 70.75L548.47 71.50L549.71 72.50L550.75 73.73L551.50 75.00L552.09 76.50L552.48 78.25L552.60 80.00L552.47 81.75L552.06 83.50L551.43 85.00L550.50 86.41L549.50 87.39L548.25 88.15L547.00 88.55ZM547.00 87.52L545.75 87.71L544.50 87.58L543.25 87.09L542.25 86.37L541.45 85.50L540.66 84.25L540.05 82.75L539.69 81.25L539.52 79.50L539.59 77.75L539.87 76.25L540.38 74.75L541.06 73.50L542.00 72.39L543.00 71.69L543.50 71.47L544.25 71.27L545.50 71.26L546.75 71.60L547.96 72.25L549.00 73.10L549.99 74.25L550.74 75.50L551.24 76.75L551.60 78.25L551.74 80.00L551.62 81.50L551.27 83.00L550.76 84.25L550.15 85.25L549.25 86.26L548.25 86.99L547.00 87.52ZM545.75 86.77L544.75 86.74L543.75 86.46L542.75 85.87L542.00 85.17L541.25 84.14L540.69 83.00L540.30 81.75L540.04 80.25L540.00 78.75L540.16 77.25L540.47 76.00L541.00 74.72L541.75 73.59L542.50 72.86L543.50 72.29L544.50 72.06L545.50 72.12L546.65 72.50L547.75 73.18L548.64 74.00L549.42 75.00L550.10 76.25L550.54 77.50L550.81 79.00L550.83 80.50L550.66 81.75L550.28 83.00L549.65 84.25L548.85 85.25L547.93 86.00L546.75 86.57L545.75 86.77ZM546.00 85.80L545.00 85.89L544.25 85.77L543.25 85.33L542.50 84.74L541.75 83.83L541.25 82.93L540.82 81.75L540.56 80.50L540.47 79.00L540.57 77.75L540.85 76.50L541.25 75.46L541.82 74.50L542.50 73.74L543.25 73.22L544.25 72.90L545.25 72.92L546.25 73.24L547.11 73.75L547.94 74.50L548.72 75.50L549.26 76.50L549.63 77.50L549.90 78.75L549.97 80.00L549.88 81.00L549.57 82.25L549.13 83.25L548.50 84.19L547.75 84.93L547.00 85.42L546.00 85.80ZM545.25 85.01L544.50 84.97L543.75 84.74L543.00 84.28L542.46 83.75L541.92 83.00L541.45 82.00L541.15 81.00L540.97 79.75L540.98 78.50L541.12 77.50L541.40 76.50L541.87 75.50L542.41 74.75L543.00 74.22L543.75 73.83L544.50 73.68L545.25 73.75L546.00 74.02L546.76 74.50L547.53 75.25L548.07 76.00L548.58 77.00L548.90 78.00L549.10 79.25L549.07 80.50L548.87 81.50L548.50 82.49L548.06 83.25L547.50 83.91L546.75 84.50L546.00 84.85L545.25 85.01ZM545.75 84.00L545.00 84.16L544.25 84.08L543.50 83.76L543.00 83.38L542.50 82.81L542.03 82.00L541.74 81.25L541.52 80.25L541.44 79.25L541.50 78.25L541.70 77.25L542.00 76.45L542.50 75.62L543.00 75.09L543.50 74.75L544.25 74.51L544.80 74.50L545.50 74.67L546.11 75.00L546.75 75.54L547.31 76.25L547.73 77.00L548.02 77.75L548.25 78.75L548.31 79.75L548.24 80.50L548.08 81.25L547.79 82.00L547.35 82.75L546.92 83.25L546.28 83.75L545.75 84.00ZM545.25 83.26L544.75 83.32L544.25 83.26L543.75 83.05L543.25 82.69L542.75 82.11L542.41 81.50L542.14 80.75L541.98 80.00L541.93 79.00L542.00 78.25L542.17 77.50L542.48 76.75L542.80 76.25L543.25 75.77L543.75 75.46L544.25 75.31L544.75 75.30L545.25 75.42L545.75 75.68L546.25 76.10L546.75 76.72L547.05 77.25L547.34 78.00L547.51 78.75L547.56 79.50L547.51 80.25L547.34 81.00L547.03 81.75L546.71 82.25L546.25 82.73L545.75 83.07L545.25 83.26ZM545.50 82.27L545.00 82.46L544.50 82.48L543.75 82.21L543.25 81.75L543.00 81.40L542.69 80.75L542.50 80.05L542.44 78.75L542.75 77.49L543.01 77.00L543.45 76.50L543.75 76.28L544.25 76.11L545.00 76.17L545.75 76.62L546.41 77.50L546.77 78.50L546.86 79.75L546.66 80.75L546.25 81.57L545.87 82.00L545.50 82.27ZM545.00 81.61L544.75 81.66L544.25 81.62L543.75 81.33L543.25 80.66L542.97 79.75L542.96 78.75L543.25 77.77L543.75 77.14L544.25 76.90L544.50 76.88L545.00 77.00L545.50 77.37L545.92 78.00L546.17 78.75L546.21 79.75L546.03 80.50L545.55 81.25L545.00 81.61Z" fill="none" stroke="#3a3a3a" stroke-width="0.6"/><path d="M544.75 80.84L544.25 80.80L544.00 80.64L543.69 80.25L543.46 79.50L543.48 78.75L543.67 78.25L544.00 77.84L544.50 77.68L545.00 77.87L545.25 78.13L545.50 78.61L545.62 79.25L545.58 79.75L545.41 80.25L545.00 80.73L544.75 80.84Z" fill="#fff"/><path d="M526.50 105.75L525.25 105.89L523.75 105.91L522.50 105.83L521.25 105.61L520.25 105.31L519.25 104.89L518.25 104.31L517.25 103.54L516.46 102.75L515.68 101.75L515.08 100.75L514.61 99.75L514.17 98.50L513.86 97.25L513.62 95.75L513.47 94.00L513.42 90.50L513.95 83.75L514.14 77.75L514.30 75.25L514.83 71.25L515.55 68.25L516.14 66.50L516.92 64.75L517.80 63.25L518.75 62.05L519.75 61.12L521.00 60.34L522.25 59.90L523.50 59.72L525.00 59.74L526.25 59.98L527.50 60.49L528.50 61.16L529.50 62.10L530.56 63.50L531.41 65.00L532.15 66.75L532.65 68.25L533.11 70.00L533.72 73.50L534.02 77.00L534.30 83.75L535.03 90.50L535.07 93.25L534.81 96.50L534.57 97.75L534.21 99.00L533.83 100.00L533.33 101.00L532.68 102.00L532.07 102.75L531.32 103.50L530.50 104.15L529.75 104.63L528.75 105.12L527.50 105.54L526.50 105.75Z" fill="#2a2a2a"/><path d="M526.00 104.03L525.00 104.12L523.50 104.12L522.50 104.02L521.50 103.83L520.75 103.60L519.75 103.16L518.75 102.53L518.00 101.90L517.39 101.25L516.75 100.37L516.25 99.50L515.81 98.50L515.42 97.25L515.20 96.25L514.86 93.25L514.84 90.25L515.32 84.00L515.63 76.50L516.05 73.00L516.67 70.25L517.25 68.50L517.92 67.00L518.65 65.75L519.50 64.66L520.25 63.95L521.25 63.29L522.25 62.88L523.50 62.67L524.75 62.67L526.00 62.90L527.00 63.31L528.00 63.99L528.99 65.00L529.75 66.06L530.53 67.50L531.13 69.00L531.91 71.75L532.40 74.75L532.64 77.50L532.92 84.00L533.60 90.50L533.63 93.00L533.36 96.00L532.89 98.00L532.15 99.75L531.70 100.50L531.00 101.41L530.25 102.15L529.50 102.72L528.75 103.17L527.75 103.61L526.00 104.03Z" fill="#131313"/><path d="M525.00 107.51L523.50 107.51L522.25 107.42L521.00 107.20L519.75 106.83L518.75 106.40L517.50 105.68L516.50 104.91L515.50 103.93L514.76 103.00L514.12 102.00L513.39 100.50L512.95 99.25L512.63 98.00L512.37 96.50L512.12 93.00L512.16 90.25L512.72 83.50L512.92 77.25L513.11 74.25L513.65 70.25L514.13 68.00L514.63 66.25L515.35 64.25L516.17 62.50L517.08 61.00L518.31 59.50L519.50 58.47L520.75 57.75L522.25 57.26L523.75 57.10L525.25 57.15L526.75 57.47L528.00 58.02L529.25 58.90L530.35 60.00L531.45 61.50L532.41 63.25L533.15 65.00L533.65 66.50L534.19 68.50L534.59 70.50L534.93 72.75L535.22 76.00L535.51 83.25L536.20 89.25L536.37 91.75L536.29 95.25L536.14 96.75L535.87 98.25L535.44 99.75L535.06 100.75L534.43 102.00L533.78 103.00L532.97 104.00L532.00 104.93L531.00 105.69L530.00 106.27L528.75 106.82L527.75 107.13L526.50 107.38L525.00 107.51ZM526.50 106.75L525.25 106.88L523.50 106.89L522.25 106.79L521.00 106.56L519.75 106.17L518.75 105.72L517.75 105.13L516.75 104.35L515.89 103.50L515.10 102.50L514.34 101.25L513.87 100.25L513.43 99.00L513.11 97.75L512.85 96.25L512.69 94.50L512.61 92.50L512.64 90.50L513.18 83.75L513.38 77.50L513.54 75.00L513.81 72.50L514.08 70.75L514.83 67.50L515.59 65.25L516.38 63.50L517.26 62.00L518.25 60.72L519.25 59.75L520.50 58.91L521.75 58.40L523.25 58.13L525.00 58.13L526.25 58.34L527.50 58.81L528.75 59.59L529.98 60.75L530.94 62.00L531.82 63.50L532.61 65.25L533.14 66.75L533.63 68.50L534.12 70.75L534.43 72.75L534.78 76.75L535.05 83.50L535.82 90.50L535.86 93.75L535.57 97.00L535.32 98.25L534.96 99.50L534.07 101.50L533.44 102.50L532.64 103.50L531.75 104.38L530.75 105.14L529.75 105.72L528.75 106.17L527.50 106.56L526.50 106.75ZM526.00 106.26L524.75 106.34L523.25 106.32L522.00 106.19L520.75 105.92L519.75 105.58L518.75 105.11L517.75 104.47L516.75 103.64L515.93 102.75L515.21 101.75L514.64 100.75L514.10 99.50L513.65 98.00L513.39 96.75L513.10 93.75L513.09 90.25L513.59 84.00L513.96 75.25L514.47 71.25L514.88 69.25L515.36 67.50L516.08 65.50L516.92 63.75L517.75 62.44L518.75 61.23L519.75 60.35L521.00 59.61L522.25 59.18L523.50 59.02L525.25 59.06L526.50 59.33L527.75 59.89L528.75 60.58L529.75 61.56L530.83 63.00L531.67 64.50L532.41 66.25L532.91 67.75L533.38 69.50L533.82 71.75L534.07 73.50L534.35 76.75L534.64 83.75L535.40 91.00L535.37 94.50L535.05 97.25L534.69 98.75L534.35 99.75L533.90 100.75L533.33 101.75L532.61 102.75L532.00 103.42L531.25 104.11L530.25 104.82L529.25 105.36L528.25 105.76L527.00 106.10L526.00 106.26Z" fill="none" stroke="#2a2a2a" stroke-width="0.5"/><path d="M526.00 105.27L524.75 105.36L523.25 105.34L522.00 105.19L521.00 104.97L520.00 104.63L519.00 104.14L518.00 103.47L517.25 102.82L516.50 101.99L515.80 101.00L515.26 100.00L514.84 99.00L514.46 97.75L514.19 96.50L513.88 93.50L513.87 90.25L514.36 84.00L514.68 76.00L515.13 72.25L515.85 69.00L516.43 67.25L517.20 65.50L518.08 64.00L519.00 62.84L520.00 61.92L521.00 61.29L522.25 60.82L523.50 60.63L525.00 60.65L526.25 60.90L527.50 61.45L528.50 62.16L529.50 63.18L530.44 64.50L531.13 65.75L531.86 67.50L532.35 69.00L532.78 70.75L533.36 74.25L533.60 77.25L533.87 83.75L534.60 90.75L534.61 93.50L534.33 96.50L533.78 98.75L533.40 99.75L532.89 100.75L532.25 101.71L531.59 102.50L530.80 103.25L530.00 103.84L529.00 104.41L528.00 104.82L527.00 105.10L526.00 105.27ZM526.00 104.28L525.00 104.36L523.50 104.36L522.25 104.24L521.25 104.02L520.25 103.67L519.25 103.16L518.50 102.64L517.77 102.00L517.09 101.25L516.56 100.50L516.00 99.50L515.58 98.50L515.20 97.25L514.95 96.00L514.66 93.25L514.64 90.25L515.13 84.00L515.45 76.25L515.88 72.75L516.58 69.75L517.18 68.00L517.87 66.50L518.64 65.25L519.44 64.25L520.25 63.50L521.25 62.86L522.25 62.47L523.50 62.26L525.00 62.28L526.00 62.48L527.00 62.88L528.00 63.54L528.98 64.50L529.75 65.52L530.58 67.00L531.21 68.50L531.69 70.00L532.07 71.50L532.61 74.75L532.83 77.50L533.10 83.75L533.80 90.50L533.83 93.00L533.57 96.00L533.12 98.00L532.75 99.00L532.27 100.00L531.23 101.50L530.50 102.25L529.75 102.85L529.00 103.31L528.00 103.77L527.00 104.09L526.00 104.28ZM526.00 103.28L525.00 103.38L523.75 103.38L522.75 103.31L521.75 103.13L520.75 102.81L520.00 102.46L519.25 101.99L518.36 101.25L517.69 100.50L517.17 99.75L516.33 98.00L515.79 96.00L515.44 93.00L515.43 90.00L515.90 84.00L516.21 76.75L516.56 73.75L517.17 71.00L517.65 69.50L518.31 68.00L519.00 66.80L519.75 65.83L520.50 65.11L521.50 64.45L522.50 64.07L523.50 63.90L524.75 63.91L525.75 64.08L526.75 64.47L527.75 65.15L528.50 65.88L529.33 67.00L530.02 68.25L530.64 69.75L531.35 72.25L531.85 75.25L532.06 77.75L532.34 84.00L533.01 90.50L533.04 92.75L532.80 95.50L532.36 97.50L531.65 99.25L530.63 100.75L530.00 101.41L529.25 102.01L527.75 102.81L527.00 103.06L526.00 103.28ZM526.00 102.26L525.00 102.38L523.75 102.39L522.00 102.16L521.00 101.83L520.32 101.50L519.56 101.00L518.97 100.50L517.94 99.25L517.51 98.50L517.08 97.50L516.55 95.50L516.22 92.75L516.20 90.00L516.69 84.00L516.98 77.25L517.30 74.50L517.77 72.25L518.24 70.75L518.75 69.52L519.30 68.50L520.01 67.50L520.75 66.74L521.50 66.20L522.50 65.76L523.50 65.57L524.50 65.56L525.50 65.70L526.50 66.09L527.25 66.57L528.00 67.28L528.75 68.26L529.44 69.50L529.96 70.75L530.61 73.00L531.08 75.75L531.28 78.00L531.56 84.00L532.20 90.00L532.25 92.50L532.03 95.00L531.60 97.00L531.01 98.50L530.58 99.25L530.02 100.00L529.00 100.98L528.25 101.47L527.50 101.84L526.00 102.26ZM525.75 101.28L523.75 101.37L522.75 101.27L522.00 101.11L521.25 100.84L520.50 100.44L519.35 99.50L518.42 98.25L518.04 97.50L517.67 96.50L517.26 94.75L516.98 92.25L516.98 89.75L517.48 84.00L517.78 77.50L518.04 75.25L518.46 73.25L518.84 72.00L519.36 70.75L519.91 69.75L520.50 68.94L521.25 68.20L522.00 67.71L522.75 67.41L523.75 67.25L524.75 67.28L525.50 67.43L526.25 67.73L527.01 68.25L527.75 69.00L528.45 70.00L528.96 71.00L529.44 72.25L529.97 74.25L530.33 76.50L530.76 84.00L531.44 90.25L531.46 92.50L531.22 94.75L530.84 96.50L530.23 98.00L529.39 99.25L528.31 100.25L527.00 100.95L525.75 101.28ZM525.50 100.27L523.75 100.34L522.25 100.10L521.00 99.55L520.00 98.75L519.50 98.16L519.07 97.50L518.43 96.00L518.02 94.25L517.75 92.00L517.77 89.50L518.26 84.25L518.58 78.00L518.82 76.00L519.18 74.25L519.57 73.00L519.99 72.00L520.50 71.09L521.00 70.42L521.50 69.92L522.25 69.40L523.00 69.11L523.75 69.00L524.75 69.03L525.50 69.20L526.25 69.58L526.75 69.96L527.46 70.75L527.95 71.50L528.44 72.50L528.80 73.50L529.25 75.25L529.55 77.25L529.96 84.00L530.67 90.25L530.68 92.25L530.46 94.25L530.07 96.00L529.57 97.25L528.75 98.49L527.95 99.25L526.75 99.93L525.50 100.27ZM525.00 99.25L523.50 99.25L522.25 98.98L521.25 98.46L520.75 98.06L520.25 97.52L519.61 96.50L519.12 95.25L518.68 93.25L518.50 91.50L518.53 89.50L519.10 84.00L519.44 78.25L519.63 76.75L519.94 75.25L520.55 73.50L521.00 72.67L521.50 71.99L522.01 71.50L522.75 71.06L523.25 70.89L524.00 70.81L524.75 70.86L525.25 70.98L526.00 71.36L526.50 71.78L527.00 72.37L527.39 73.00L528.12 74.75L528.49 76.25L528.71 77.75L529.13 84.00L529.79 89.00L529.92 90.75L529.87 92.50L529.60 94.25L529.25 95.61L528.75 96.77L528.06 97.75L527.25 98.47L526.25 98.98L525.00 99.25ZM525.50 98.05L524.25 98.18L523.00 98.04L522.00 97.65L521.17 97.00L520.50 96.13L519.98 95.00L519.50 93.25L519.29 91.75L519.26 90.50L519.35 89.00L519.94 84.25L520.37 78.50L520.71 76.50L521.25 74.92L521.98 73.75L522.75 73.10L523.25 72.88L523.75 72.78L524.75 72.83L525.25 72.99L525.75 73.30L526.25 73.78L526.59 74.25L526.99 75.00L527.27 75.75L527.55 76.75L527.77 78.00L528.27 84.00L529.11 90.00L529.14 91.50L529.00 92.95L528.65 94.50L528.25 95.62L527.75 96.50L527.06 97.25L526.25 97.78L525.50 98.05ZM524.25 97.00L523.25 96.90L522.50 96.61L521.75 96.05L521.25 95.42L520.75 94.45L520.35 93.25L520.11 92.00L520.03 90.75L520.16 88.75L520.87 84.25L521.37 79.25L521.64 77.75L522.00 76.67L522.50 75.81L522.80 75.50L523.25 75.19L524.00 75.02L524.75 75.11L525.50 75.59L526.00 76.26L526.50 77.51L526.80 79.00L527.37 84.25L528.23 89.00L528.37 90.75L528.32 92.00L528.09 93.25L527.69 94.50L527.17 95.50L526.75 96.03L526.00 96.60L525.25 96.89L524.25 97.00ZM525.25 95.58L524.50 95.72L523.50 95.66L522.75 95.34L522.25 94.94L521.75 94.28L521.25 93.26L520.96 92.25L520.82 91.25L520.81 90.00L521.00 88.47L522.09 83.75L522.79 80.25L523.00 79.49L523.25 78.96L523.50 78.65L524.00 78.43L524.50 78.51L524.75 78.70L525.00 79.04L525.25 79.63L526.32 84.50L527.25 88.07L527.56 90.00L527.60 91.00L527.51 92.00L527.10 93.50L526.73 94.25L526.25 94.90L525.75 95.33L525.25 95.58ZM524.75 94.32L524.00 94.36L523.50 94.26L523.00 94.01L522.50 93.56L521.89 92.50L521.68 91.75L521.58 91.00L521.57 90.25L521.68 89.25L521.91 88.25L522.25 87.23L522.75 86.15L523.25 85.43L523.50 85.20L524.00 85.00L524.50 85.05L525.00 85.42L525.75 86.57L526.50 88.50L526.81 90.25L526.74 91.75L526.32 93.00L525.75 93.77L525.25 94.13L524.75 94.32ZM524.75 93.02L524.25 93.09L523.75 93.04L523.18 92.75L522.93 92.50L522.62 92.00L522.36 91.00L522.40 89.75L522.75 88.61L523.25 87.85L523.50 87.64L524.00 87.46L524.50 87.50L524.75 87.60L525.25 88.06L525.75 88.98L526.01 90.00L526.04 91.00L525.80 92.00L525.50 92.50L525.26 92.75L524.75 93.02Z" fill="none" stroke="#333" stroke-width="0.3"/><path d="M524.50 91.35L524.00 91.39L523.75 91.26L523.50 90.77L523.50 90.34L523.62 90.00L523.75 89.81L524.00 89.66L524.50 89.72L524.75 89.98L524.85 90.25L524.88 90.75L524.82 91.00L524.50 91.35Z" fill="#555" stroke="none"/><path d="M308.1 106.4h0.8v0.8h-0.8zM357.2 61.4h0.8v0.8h-0.8zM336.2 76.2h0.8v0.8h-0.8zM348.4 101.9h0.8v0.8h-0.8zM304.9 44.2h0.8v0.8h-0.8zM362.8 74.9h0.8v0.8h-0.8zM357.1 42.2h0.8v0.8h-0.8zM332.3 96.8h0.8v0.8h-0.8zM315.4 113.8h0.8v0.8h-0.8zM367.9 44.3h0.8v0.8h-0.8zM299.6 83.1h0.8v0.8h-0.8zM370.9 71.0h0.8v0.8h-0.8zM314.5 74.1h0.8v0.8h-0.8zM299.9 58.8h0.8v0.8h-0.8zM331.8 79.7h0.8v0.8h-0.8zM315.8 59.5h0.8v0.8h-0.8z" fill="#aaa"/><path d="M471.5 114.0h0.8v0.8h-0.8zM400.9 48.5h0.8v0.8h-0.8zM462.1 97.9h0.8v0.8h-0.8zM449.1 65.4h0.8v0.8h-0.8zM444.1 88.1h0.8v0.8h-0.8zM442.1 54.0h0.8v0.8h-0.8zM430.3 71.9h0.8v0.8h-0.8zM453.3 117.6h0.8v0.8h-0.8zM471.0 83.4h0.8v0.8h-0.8zM431.4 62.4h0.8v0.8h-0.8zM399.3 44.1h0.8v0.8h-0.8zM433.0 66.2h0.8v0.8h-0.8zM426.3 109.8h0.8v0.8h-0.8zM437.8 84.6h0.8v0.8h-0.8zM415.0 43.8h0.8v0.8h-0.8zM422.0 52.4h0.8v0.8h-0.8z" fill="#aaa"/><path d="M515.1 83.4h0.8v0.8h-0.8zM525.5 87.9h0.8v0.8h-0.8zM545.5 47.0h0.8v0.8h-0.8zM497.5 105.6h0.8v0.8h-0.8zM516.8 59.8h0.8v0.8h-0.8zM574.5 77.7h0.8v0.8h-0.8zM562.0 78.2h0.8v0.8h-0.8zM546.5 53.4h0.8v0.8h-0.8zM546.2 108.0h0.8v0.8h-0.8zM537.5 98.3h0.8v0.8h-0.8zM549.1 46.9h0.8v0.8h-0.8zM555.9 86.9h0.8v0.8h-0.8zM520.1 44.4h0.8v0.8h-0.8zM564.3 77.9h0.8v0.8h-0.8zM552.8 108.8h0.8v0.8h-0.8zM552.4 112.0h0.8v0.8h-0.8z" fill="#aaa"/><rect x="309.6" y="53.4" width="53.799999999999955" height="42.00000000000001" fill="none" stroke="#222" stroke-width="1.2"/><line x1="336.5" y1="53.4" x2="336.5" y2="95.4" stroke="#222" stroke-width="1.2"/><rect x="309.6" y="95.4" width="26.899999999999977" height="16.0" fill="none" stroke="#222" stroke-width="1.2"/><text x="319.26" y="50.90" font-size="9.70" fill="#1e1e1e">82</text><text x="348.51" y="50.90" font-size="9.70" fill="#1e1e1e">7</text><text x="321.41" y="121.80" font-size="9.70" fill="#1e1e1e">3</text><rect x="405.9" y="55.5" width="54.60000000000002" height="41.7" fill="none" stroke="#222" stroke-width="1.2"/><line x1="432.9" y1="55.5" x2="432.9" y2="97.2" stroke="#222" stroke-width="1.2"/><rect x="405.9" y="97.2" width="27.0" height="16.5" fill="none" stroke="#222" stroke-width="1.2"/><text x="414.66" y="53.00" font-size="9.70" fill="#1e1e1e">80</text><text x="444.36" y="53.00" font-size="9.70" fill="#1e1e1e">9</text><text x="417.01" y="122.40" font-size="9.70" fill="#1e1e1e">7</text><rect x="509.6" y="56.0" width="53.799999999999955" height="42.2" fill="none" stroke="#222" stroke-width="1.2"/><line x1="536.3" y1="56.0" x2="536.3" y2="98.2" stroke="#222" stroke-width="1.2"/><rect x="509.6" y="98.2" width="26.699999999999932" height="12.599999999999994" fill="none" stroke="#222" stroke-width="1.2"/><text x="518.81" y="53.50" font-size="9.70" fill="#1e1e1e">79</text><text x="548.46" y="53.50" font-size="9.70" fill="#1e1e1e">8</text><text x="521.56" y="122.40" font-size="9.70" fill="#1e1e1e">9</text><rect x="588.9" y="34.5" width="94.1" height="93.9" fill="none" stroke="#000" stroke-width="1.5"/><rect x="611" y="53.6" width="53.8" height="42.1" fill="none" stroke="#222" stroke-width="1.2"/><line x1="637.9" y1="53.6" x2="637.9" y2="95.7" stroke="#222" stroke-width="1.2"/><rect x="611" y="95.7" width="26.9" height="11.8" fill="none" stroke="#222" stroke-width="1.2"/><text x="613.84" y="49.90" font-size="9.15" fill="#1e1e1e">CMP</text><text x="641.14" y="49.90" font-size="9.29" fill="#1e1e1e">GMP</text><text x="614.53" y="119.20" font-size="9.63" fill="#1e1e1e">MEP</text><line x1="357.9" y1="204.69000000000003" x2="357.9" y2="302.2" stroke="#000" stroke-width="1.4"/><line x1="354.1" y1="301.5" x2="416.6" y2="301.5" stroke="#000" stroke-width="1.4"/><line x1="354.09999999999997" y1="301.5" x2="357.9" y2="301.5" stroke="#000" stroke-width="1.2"/><line x1="354.09999999999997" y1="269.43" x2="357.9" y2="269.43" stroke="#000" stroke-width="1.2"/><line x1="354.09999999999997" y1="237.36" x2="357.9" y2="237.36" stroke="#000" stroke-width="1.2"/><line x1="354.09999999999997" y1="205.29000000000002" x2="357.9" y2="205.29000000000002" stroke="#000" stroke-width="1.2"/><line x1="370.4" y1="301.5" x2="370.4" y2="305.1" stroke="#000" stroke-width="1.2"/><line x1="386.8" y1="301.5" x2="386.8" y2="305.1" stroke="#000" stroke-width="1.2"/><line x1="403.1" y1="301.5" x2="403.1" y2="305.1" stroke="#000" stroke-width="1.2"/><text x="339.61" y="304.25" font-size="9.00" fill="#2a2a2a">0.0</text><text x="339.69" y="273.65" font-size="9.00" fill="#2a2a2a">0.1</text><text x="339.74" y="242.65" font-size="9.00" fill="#2a2a2a">0.2</text><text x="339.65" y="211.65" font-size="9.00" fill="#2a2a2a">0.3</text><text x="354.84" y="317.00" font-size="12.00" fill="#1e1e1e">HC</text><text x="377.04" y="317.00" font-size="12.00" fill="#1e1e1e">HP</text><text x="397.50" y="317.00" font-size="12.00" fill="#1e1e1e">GDM</text><text x="371.20" y="181.10" font-size="12.00" fill="#1e1e1e">CMP</text><circle cx="366.2" cy="264.8" r="1.9" fill="#ffffff" stroke="#505050" stroke-width="0.75"/><circle cx="371.1" cy="267.5" r="1.9" fill="#ffffff" stroke="#505050" stroke-width="0.75"/><circle cx="374.7" cy="267.5" r="1.9" fill="#ffffff" stroke="#505050" stroke-width="0.75"/><circle cx="367.4" cy="268.8" r="1.9" fill="#ffffff" stroke="#505050" stroke-width="0.75"/><circle cx="370.2" cy="274.8" r="1.9" fill="#ffffff" stroke="#505050" stroke-width="0.75"/><circle cx="386.7" cy="217.3" r="1.9" fill="#3cb2c4" stroke="#1a1a1a" stroke-width="0.75"/><circle cx="384.8" cy="222.4" r="1.9" fill="#3cb2c4" stroke="#1a1a1a" stroke-width="0.75"/><circle cx="388.3" cy="224.5" r="1.9" fill="#3cb2c4" stroke="#1a1a1a" stroke-width="0.75"/><circle cx="385.1" cy="239.8" r="1.9" fill="#3cb2c4" stroke="#1a1a1a" stroke-width="0.75"/><circle cx="387.9" cy="238.8" r="1.9" fill="#3cb2c4" stroke="#1a1a1a" stroke-width="0.75"/><circle cx="387.9" cy="244.1" r="1.9" fill="#3cb2c4" stroke="#1a1a1a" stroke-width="0.75"/><circle cx="385.1" cy="247.2" r="1.9" fill="#3cb2c4" stroke="#1a1a1a" stroke-width="0.75"/><circle cx="382.3" cy="257.9" r="1.9" fill="#3cb2c4" stroke="#1a1a1a" stroke-width="0.75"/><circle cx="385.3" cy="258.8" r="1.9" fill="#3cb2c4" stroke="#1a1a1a" stroke-width="0.75"/><circle cx="388.3" cy="255.8" r="1.9" fill="#3cb2c4" stroke="#1a1a1a" stroke-width="0.75"/><circle cx="391.3" cy="256.2" r="1.9" fill="#3cb2c4" stroke="#1a1a1a" stroke-width="0.75"/><circle cx="386.6" cy="264.9" r="1.9" fill="#3cb2c4" stroke="#1a1a1a" stroke-width="0.75"/><circle cx="385.3" cy="271" r="1.9" fill="#3cb2c4" stroke="#1a1a1a" stroke-width="0.75"/><circle cx="388.3" cy="274.5" r="1.9" fill="#3cb2c4" stroke="#1a1a1a" stroke-width="0.75"/><circle cx="386.6" cy="281.8" r="1.9" fill="#3cb2c4" stroke="#1a1a1a" stroke-width="0.75"/><circle cx="407.4" cy="266.6" r="1.9" fill="#b06ee2" stroke="#1a1a1a" stroke-width="0.75"/><circle cx="398.6" cy="270.8" r="1.9" fill="#b06ee2" stroke="#1a1a1a" stroke-width="0.75"/><circle cx="401.4" cy="271.3" r="1.9" fill="#b06ee2" stroke="#1a1a1a" stroke-width="0.75"/><circle cx="403.1" cy="269.7" r="1.9" fill="#b06ee2" stroke="#1a1a1a" stroke-width="0.75"/><circle cx="405.1" cy="272.5" r="1.9" fill="#b06ee2" stroke="#1a1a1a" stroke-width="0.75"/><circle cx="407.8" cy="271.3" r="1.9" fill="#b06ee2" stroke="#1a1a1a" stroke-width="0.75"/><circle cx="401.1" cy="276.1" r="1.9" fill="#b06ee2" stroke="#1a1a1a" stroke-width="0.75"/><circle cx="404.4" cy="276.4" r="1.9" fill="#b06ee2" stroke="#1a1a1a" stroke-width="0.75"/><circle cx="402.9" cy="279.8" r="1.9" fill="#b06ee2" stroke="#1a1a1a" stroke-width="0.75"/><circle cx="405.3" cy="279" r="1.9" fill="#b06ee2" stroke="#1a1a1a" stroke-width="0.75"/><circle cx="403.1" cy="284.3" r="1.9" fill="#b06ee2" stroke="#1a1a1a" stroke-width="0.75"/><line x1="365.4" y1="268.8" x2="375.4" y2="268.8" stroke="#000" stroke-width="1.4"/><line x1="370.4" y1="266.5" x2="370.4" y2="271" stroke="#000" stroke-width="1.1"/><line x1="367.79999999999995" y1="266.5" x2="373.0" y2="266.5" stroke="#000" stroke-width="1.1"/><line x1="367.79999999999995" y1="271" x2="373.0" y2="271" stroke="#000" stroke-width="1.1"/><line x1="380.6" y1="250.5" x2="393.0" y2="250.5" stroke="#000" stroke-width="1.4"/><line x1="386.8" y1="246.5" x2="386.8" y2="255" stroke="#000" stroke-width="1.1"/><line x1="384.2" y1="246.5" x2="389.40000000000003" y2="246.5" stroke="#000" stroke-width="1.1"/><line x1="384.2" y1="255" x2="389.40000000000003" y2="255" stroke="#000" stroke-width="1.1"/><line x1="397.3" y1="273.9" x2="408.90000000000003" y2="273.9" stroke="#000" stroke-width="1.4"/><line x1="403.1" y1="271.8" x2="403.1" y2="276" stroke="#000" stroke-width="1.1"/><line x1="400.5" y1="271.8" x2="405.70000000000005" y2="271.8" stroke="#000" stroke-width="1.1"/><line x1="400.5" y1="276" x2="405.70000000000005" y2="276" stroke="#000" stroke-width="1.1"/><line x1="371.3" y1="194" x2="400.9" y2="194" stroke="#000" stroke-width="1.4"/><line x1="366" y1="204.6" x2="384.8" y2="204.6" stroke="#000" stroke-width="1.4"/><line x1="386.1" y1="204.6" x2="405.1" y2="204.6" stroke="#000" stroke-width="1.4"/><text x="375.63" y="190.50" font-size="5.9" fill="#2a2a2a"><tspan font-style="italic">P</tspan> = 0.25</text><text x="361.53" y="201.20" font-size="5.9" fill="#2a2a2a"><tspan font-style="italic">P</tspan> &lt; 0.01</text><text x="385.03" y="201.20" font-size="5.9" fill="#2a2a2a"><tspan font-style="italic">P</tspan> &lt; 0.001</text><text x="334.1" y="306.9" font-size="11.7" fill="#1e1e1e" transform="rotate(-90 334.1 306.9)">% in CD45<tspan font-size="7.2" dy="-4.3">+</tspan><tspan dy="4.3"> PBMCs</tspan></text><line x1="469.2" y1="206.20000000000002" x2="469.2" y2="301.2" stroke="#000" stroke-width="1.4"/><line x1="465.3" y1="300.5" x2="524.8" y2="300.5" stroke="#000" stroke-width="1.4"/><line x1="465.4" y1="300.5" x2="469.2" y2="300.5" stroke="#000" stroke-width="1.2"/><line x1="465.4" y1="281.76" x2="469.2" y2="281.76" stroke="#000" stroke-width="1.2"/><line x1="465.4" y1="263.02" x2="469.2" y2="263.02" stroke="#000" stroke-width="1.2"/><line x1="465.4" y1="244.28" x2="469.2" y2="244.28" stroke="#000" stroke-width="1.2"/><line x1="465.4" y1="225.54" x2="469.2" y2="225.54" stroke="#000" stroke-width="1.2"/><line x1="465.4" y1="206.8" x2="469.2" y2="206.8" stroke="#000" stroke-width="1.2"/><line x1="481" y1="300.5" x2="481" y2="304.1" stroke="#000" stroke-width="1.2"/><line x1="496.8" y1="300.5" x2="496.8" y2="304.1" stroke="#000" stroke-width="1.2"/><line x1="512.6" y1="300.5" x2="512.6" y2="304.1" stroke="#000" stroke-width="1.2"/><text x="440.91" y="303.88" font-size="8.80" fill="#2a2a2a">0.000</text><text x="440.95" y="285.58" font-size="8.80" fill="#2a2a2a">0.005</text><text x="440.91" y="267.08" font-size="8.80" fill="#2a2a2a">0.010</text><text x="440.95" y="247.58" font-size="8.80" fill="#2a2a2a">0.015</text><text x="440.91" y="229.88" font-size="8.80" fill="#2a2a2a">0.020</text><text x="440.95" y="211.58" font-size="8.80" fill="#2a2a2a">0.025</text><text x="466.94" y="317.00" font-size="12.00" fill="#1e1e1e">HC</text><text x="489.14" y="317.00" font-size="12.00" fill="#1e1e1e">HP</text><text x="509.90" y="317.00" font-size="12.00" fill="#1e1e1e">GDM</text><text x="480.69" y="181.10" font-size="12.18" fill="#1e1e1e">GMP</text><circle cx="476.6" cy="251.7" r="1.9" fill="#ffffff" stroke="#505050" stroke-width="0.75"/><circle cx="484.9" cy="248.5" r="1.9" fill="#ffffff" stroke="#505050" stroke-width="0.75"/><circle cx="481.4" cy="263.7" r="1.9" fill="#ffffff" stroke="#505050" stroke-width="0.75"/><circle cx="480" cy="271.2" r="1.9" fill="#ffffff" stroke="#505050" stroke-width="0.75"/><circle cx="494.6" cy="215.1" r="1.9" fill="#3cb2c4" stroke="#1a1a1a" stroke-width="0.75"/><circle cx="498.6" cy="216.7" r="1.9" fill="#3cb2c4" stroke="#1a1a1a" stroke-width="0.75"/><circle cx="496.6" cy="223" r="1.9" fill="#3cb2c4" stroke="#1a1a1a" stroke-width="0.75"/><circle cx="496.6" cy="230.8" r="1.9" fill="#3cb2c4" stroke="#1a1a1a" stroke-width="0.75"/><circle cx="492" cy="240.5" r="1.9" fill="#3cb2c4" stroke="#1a1a1a" stroke-width="0.75"/><circle cx="501.4" cy="239.7" r="1.9" fill="#3cb2c4" stroke="#1a1a1a" stroke-width="0.75"/><circle cx="496.6" cy="242.4" r="1.9" fill="#3cb2c4" stroke="#1a1a1a" stroke-width="0.75"/><circle cx="492" cy="248.5" r="1.9" fill="#3cb2c4" stroke="#1a1a1a" stroke-width="0.75"/><circle cx="496.6" cy="248.5" r="1.9" fill="#3cb2c4" stroke="#1a1a1a" stroke-width="0.75"/><circle cx="501.4" cy="248.5" r="1.9" fill="#3cb2c4" stroke="#1a1a1a" stroke-width="0.75"/><circle cx="496.8" cy="251.7" r="1.9" fill="#3cb2c4" stroke="#1a1a1a" stroke-width="0.75"/><circle cx="493.4" cy="258.4" r="1.9" fill="#3cb2c4" stroke="#1a1a1a" stroke-width="0.75"/><circle cx="498.2" cy="259.7" r="1.9" fill="#3cb2c4" stroke="#1a1a1a" stroke-width="0.75"/><circle cx="496.1" cy="267.7" r="1.9" fill="#3cb2c4" stroke="#1a1a1a" stroke-width="0.75"/><circle cx="496.1" cy="281.6" r="1.9" fill="#3cb2c4" stroke="#1a1a1a" stroke-width="0.75"/><circle cx="511.6" cy="252.5" r="1.9" fill="#b06ee2" stroke="#1a1a1a" stroke-width="0.75"/><circle cx="517.5" cy="257" r="1.9" fill="#b06ee2" stroke="#1a1a1a" stroke-width="0.75"/><circle cx="508.1" cy="259.7" r="1.9" fill="#b06ee2" stroke="#1a1a1a" stroke-width="0.75"/><circle cx="511.6" cy="262.4" r="1.9" fill="#b06ee2" stroke="#1a1a1a" stroke-width="0.75"/><circle cx="506.8" cy="266.4" r="1.9" fill="#b06ee2" stroke="#1a1a1a" stroke-width="0.75"/><circle cx="512.1" cy="267.7" r="1.9" fill="#b06ee2" stroke="#1a1a1a" stroke-width="0.75"/><circle cx="516.1" cy="265" r="1.9" fill="#b06ee2" stroke="#1a1a1a" stroke-width="0.75"/><circle cx="510" cy="274.4" r="1.9" fill="#b06ee2" stroke="#1a1a1a" stroke-width="0.75"/><circle cx="516.1" cy="274.4" r="1.9" fill="#b06ee2" stroke="#1a1a1a" stroke-width="0.75"/><line x1="475" y1="258.4" x2="487" y2="258.4" stroke="#000" stroke-width="1.4"/><line x1="481" y1="253" x2="481" y2="263.2" stroke="#000" stroke-width="1.1"/><line x1="478.4" y1="253" x2="483.6" y2="253" stroke="#000" stroke-width="1.1"/><line x1="478.4" y1="263.2" x2="483.6" y2="263.2" stroke="#000" stroke-width="1.1"/><line x1="490.8" y1="245" x2="502.8" y2="245" stroke="#000" stroke-width="1.4"/><line x1="496.8" y1="241.5" x2="496.8" y2="249" stroke="#000" stroke-width="1.1"/><line x1="494.2" y1="241.5" x2="499.40000000000003" y2="241.5" stroke="#000" stroke-width="1.1"/><line x1="494.2" y1="249" x2="499.40000000000003" y2="249" stroke="#000" stroke-width="1.1"/><line x1="507.0" y1="264.3" x2="518.2" y2="264.3" stroke="#000" stroke-width="1.4"/><line x1="512.6" y1="261" x2="512.6" y2="267.5" stroke="#000" stroke-width="1.1"/><line x1="510.0" y1="261" x2="515.2" y2="261" stroke="#000" stroke-width="1.1"/><line x1="510.0" y1="267.5" x2="515.2" y2="267.5" stroke="#000" stroke-width="1.1"/><line x1="482.2" y1="193.1" x2="511.1" y2="193.1" stroke="#000" stroke-width="1.4"/><line x1="476.4" y1="203.7" x2="495" y2="203.7" stroke="#000" stroke-width="1.4"/><line x1="497" y1="203.7" x2="515.7" y2="203.7" stroke="#000" stroke-width="1.4"/><text x="484.33" y="190.00" font-size="5.9" fill="#2a2a2a"><tspan font-style="italic">P</tspan> = 0.73</text><text x="471.93" y="200.90" font-size="5.9" fill="#2a2a2a"><tspan font-style="italic">P</tspan> = 0.26</text><text x="498.13" y="200.90" font-size="5.9" fill="#2a2a2a"><tspan font-style="italic">P</tspan> = 0.01</text><text x="437.9" y="306.9" font-size="11.7" fill="#1e1e1e" transform="rotate(-90 437.9 306.9)">% in CD45<tspan font-size="7.2" dy="-4.3">+</tspan><tspan dy="4.3"> PBMCs</tspan></text><line x1="580.3" y1="203.39999999999998" x2="580.3" y2="302.09999999999997" stroke="#000" stroke-width="1.4"/><line x1="575.8" y1="301.4" x2="638.7" y2="301.4" stroke="#000" stroke-width="1.4"/><line x1="576.5" y1="301.4" x2="580.3" y2="301.4" stroke="#000" stroke-width="1.2"/><line x1="576.5" y1="277.04999999999995" x2="580.3" y2="277.04999999999995" stroke="#000" stroke-width="1.2"/><line x1="576.5" y1="252.7" x2="580.3" y2="252.7" stroke="#000" stroke-width="1.2"/><line x1="576.5" y1="228.34999999999997" x2="580.3" y2="228.34999999999997" stroke="#000" stroke-width="1.2"/><line x1="576.5" y1="203.99999999999997" x2="580.3" y2="203.99999999999997" stroke="#000" stroke-width="1.2"/><line x1="592.2" y1="301.4" x2="592.2" y2="305.0" stroke="#000" stroke-width="1.2"/><line x1="608.8" y1="301.4" x2="608.8" y2="305.0" stroke="#000" stroke-width="1.2"/><line x1="625.5" y1="301.4" x2="625.5" y2="305.0" stroke="#000" stroke-width="1.2"/><text x="556.41" y="304.35" font-size="9.00" fill="#2a2a2a">0.00</text><text x="556.50" y="280.65" font-size="9.00" fill="#2a2a2a">0.01</text><text x="556.54" y="256.15" font-size="9.00" fill="#2a2a2a">0.02</text><text x="556.46" y="231.95" font-size="9.00" fill="#2a2a2a">0.03</text><text x="556.37" y="207.65" font-size="9.00" fill="#2a2a2a">0.04</text><text x="578.64" y="317.20" font-size="12.00" fill="#1e1e1e">HC</text><text x="600.54" y="317.20" font-size="12.00" fill="#1e1e1e">HP</text><text x="620.80" y="317.20" font-size="12.00" fill="#1e1e1e">GDM</text><text x="596.58" y="181.10" font-size="12.73" fill="#1e1e1e">MEP</text><circle cx="592.1" cy="289" r="1.9" fill="#ffffff" stroke="#505050" stroke-width="0.75"/><circle cx="588.7" cy="293.8" r="1.9" fill="#ffffff" stroke="#505050" stroke-width="0.75"/><circle cx="592.5" cy="294.9" r="1.9" fill="#ffffff" stroke="#505050" stroke-width="0.75"/><circle cx="596.7" cy="294.9" r="1.9" fill="#ffffff" stroke="#505050" stroke-width="0.75"/><circle cx="592.1" cy="291.7" r="1.9" fill="#ffffff" stroke="#505050" stroke-width="0.75"/><circle cx="608.8" cy="210.2" r="1.9" fill="#3cb2c4" stroke="#1a1a1a" stroke-width="0.75"/><circle cx="608.8" cy="223.9" r="1.9" fill="#3cb2c4" stroke="#1a1a1a" stroke-width="0.75"/><circle cx="609.2" cy="237" r="1.9" fill="#3cb2c4" stroke="#1a1a1a" stroke-width="0.75"/><circle cx="609.2" cy="242.3" r="1.9" fill="#3cb2c4" stroke="#1a1a1a" stroke-width="0.75"/><circle cx="606" cy="254.9" r="1.9" fill="#3cb2c4" stroke="#1a1a1a" stroke-width="0.75"/><circle cx="609.2" cy="254.9" r="1.9" fill="#3cb2c4" stroke="#1a1a1a" stroke-width="0.75"/><circle cx="614" cy="255.7" r="1.9" fill="#3cb2c4" stroke="#1a1a1a" stroke-width="0.75"/><circle cx="603.9" cy="259.1" r="1.9" fill="#3cb2c4" stroke="#1a1a1a" stroke-width="0.75"/><circle cx="607.4" cy="259.1" r="1.9" fill="#3cb2c4" stroke="#1a1a1a" stroke-width="0.75"/><circle cx="612.7" cy="261" r="1.9" fill="#3cb2c4" stroke="#1a1a1a" stroke-width="0.75"/><circle cx="613.2" cy="278.3" r="1.9" fill="#3cb2c4" stroke="#1a1a1a" stroke-width="0.75"/><circle cx="608.1" cy="281" r="1.9" fill="#3cb2c4" stroke="#1a1a1a" stroke-width="0.75"/><circle cx="606.5" cy="285" r="1.9" fill="#3cb2c4" stroke="#1a1a1a" stroke-width="0.75"/><circle cx="610.8" cy="285" r="1.9" fill="#3cb2c4" stroke="#1a1a1a" stroke-width="0.75"/><circle cx="606.5" cy="289.8" r="1.9" fill="#3cb2c4" stroke="#1a1a1a" stroke-width="0.75"/><circle cx="610.8" cy="289.8" r="1.9" fill="#3cb2c4" stroke="#1a1a1a" stroke-width="0.75"/><circle cx="626.8" cy="234.2" r="1.9" fill="#b06ee2" stroke="#1a1a1a" stroke-width="0.75"/><circle cx="624.7" cy="237.8" r="1.9" fill="#b06ee2" stroke="#1a1a1a" stroke-width="0.75"/><circle cx="625.5" cy="255.1" r="1.9" fill="#b06ee2" stroke="#1a1a1a" stroke-width="0.75"/><circle cx="622" cy="272.5" r="1.9" fill="#b06ee2" stroke="#1a1a1a" stroke-width="0.75"/><circle cx="628.7" cy="272.5" r="1.9" fill="#b06ee2" stroke="#1a1a1a" stroke-width="0.75"/><circle cx="625.5" cy="273.8" r="1.9" fill="#b06ee2" stroke="#1a1a1a" stroke-width="0.75"/><circle cx="622" cy="276.2" r="1.9" fill="#b06ee2" stroke="#1a1a1a" stroke-width="0.75"/><circle cx="629.5" cy="278.3" r="1.9" fill="#b06ee2" stroke="#1a1a1a" stroke-width="0.75"/><circle cx="625.5" cy="279.7" r="1.9" fill="#b06ee2" stroke="#1a1a1a" stroke-width="0.75"/><circle cx="623.3" cy="283.1" r="1.9" fill="#b06ee2" stroke="#1a1a1a" stroke-width="0.75"/><circle cx="626.8" cy="284.2" r="1.9" fill="#b06ee2" stroke="#1a1a1a" stroke-width="0.75"/><line x1="586.7" y1="293.8" x2="597.7" y2="293.8" stroke="#000" stroke-width="1.4"/><line x1="592.2" y1="292.5" x2="592.2" y2="295" stroke="#000" stroke-width="1.1"/><line x1="589.6" y1="292.5" x2="594.8000000000001" y2="292.5" stroke="#000" stroke-width="1.1"/><line x1="589.6" y1="295" x2="594.8000000000001" y2="295" stroke="#000" stroke-width="1.1"/><line x1="602.8" y1="259.7" x2="614.8" y2="259.7" stroke="#000" stroke-width="1.4"/><line x1="608.8" y1="254.9" x2="608.8" y2="267.7" stroke="#000" stroke-width="1.1"/><line x1="606.1999999999999" y1="254.9" x2="611.4" y2="254.9" stroke="#000" stroke-width="1.1"/><line x1="606.1999999999999" y1="267.7" x2="611.4" y2="267.7" stroke="#000" stroke-width="1.1"/><line x1="620.2" y1="266.9" x2="630.8" y2="266.9" stroke="#000" stroke-width="1.4"/><line x1="625.5" y1="261" x2="625.5" y2="273" stroke="#000" stroke-width="1.1"/><line x1="622.9" y1="261" x2="628.1" y2="261" stroke="#000" stroke-width="1.1"/><line x1="622.9" y1="273" x2="628.1" y2="273" stroke="#000" stroke-width="1.1"/><line x1="595" y1="193.1" x2="624.9" y2="193.1" stroke="#000" stroke-width="1.4"/><line x1="589.5" y1="203.9" x2="608.4" y2="203.9" stroke="#000" stroke-width="1.4"/><line x1="610.3" y1="203.9" x2="629.4" y2="203.9" stroke="#000" stroke-width="1.4"/><text x="598.03" y="190.00" font-size="5.9" fill="#2a2a2a"><tspan font-style="italic">P</tspan> = 0.02</text><text x="585.73" y="200.90" font-size="5.9" fill="#2a2a2a"><tspan font-style="italic">P</tspan> = 0.01</text><text x="610.23" y="200.90" font-size="5.9" fill="#2a2a2a"><tspan font-style="italic">P</tspan> &gt; 0.99</text><text x="552.9" y="306.9" font-size="11.7" fill="#1e1e1e" transform="rotate(-90 552.9 306.9)">% in CD45<tspan font-size="7.2" dy="-4.3">+</tspan><tspan dy="4.3"> PBMCs</tspan></text>
</svg></body></html>
